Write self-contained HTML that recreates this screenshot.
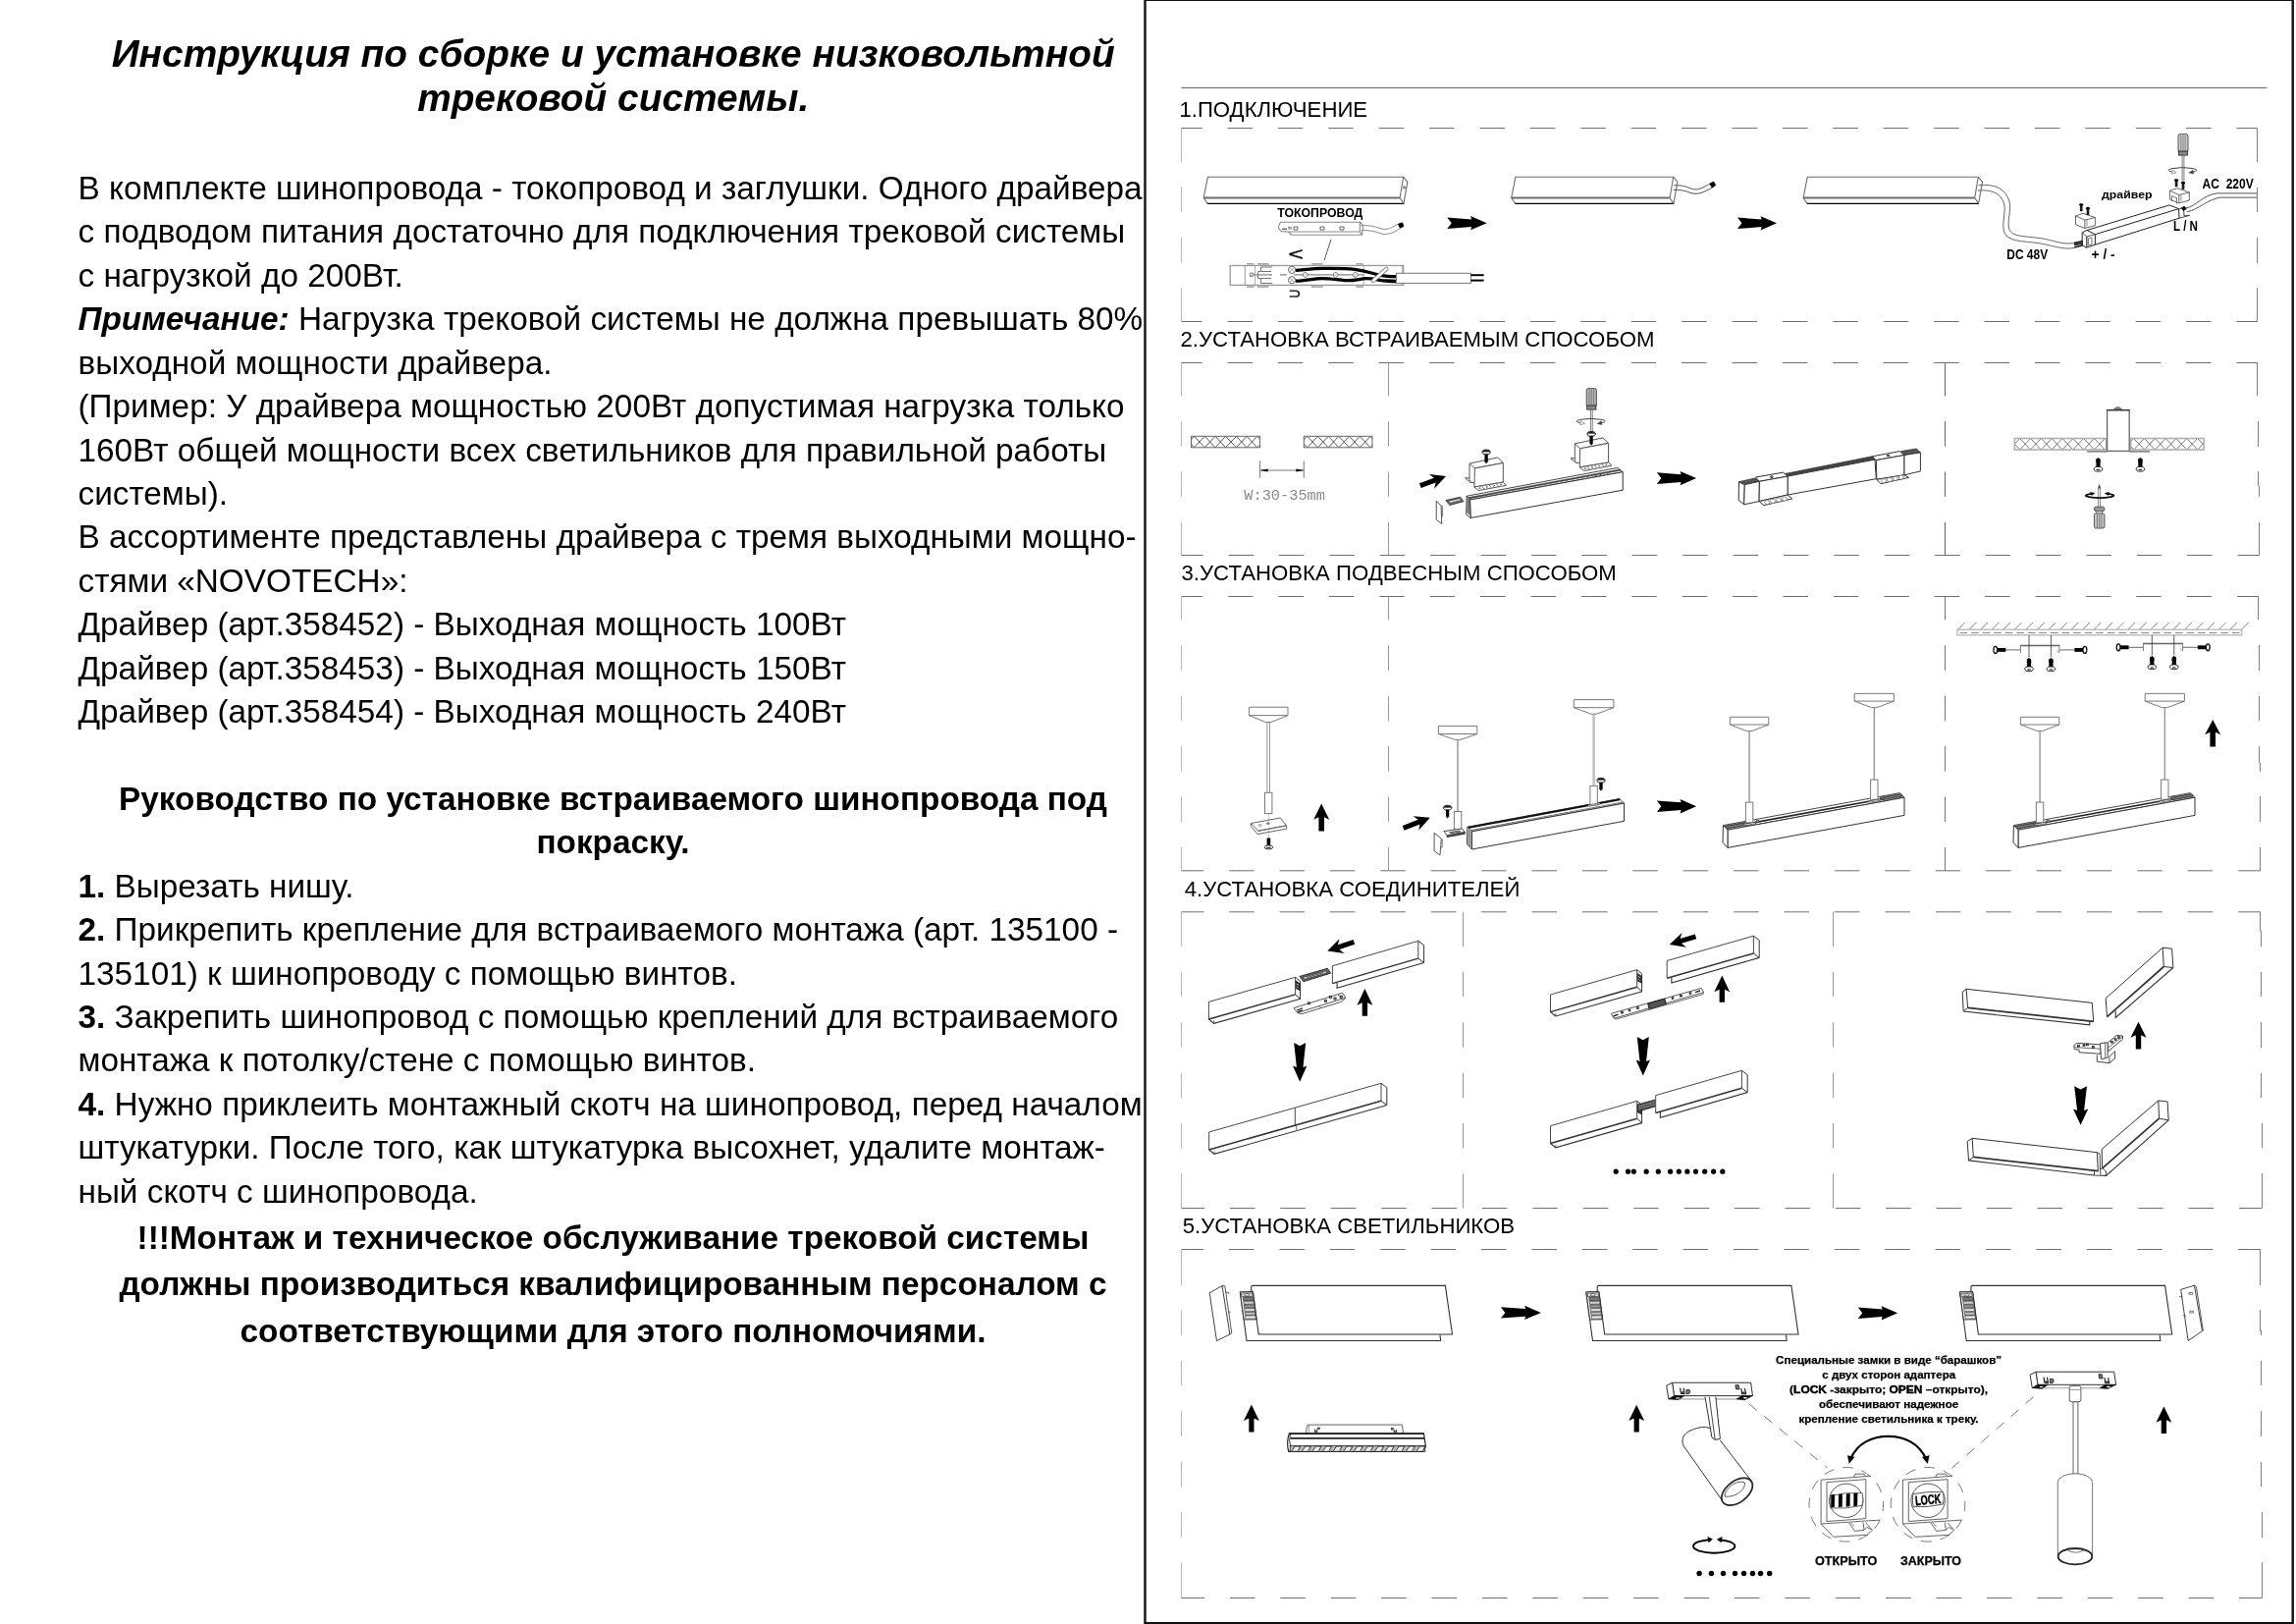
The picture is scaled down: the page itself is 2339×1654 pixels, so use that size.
<!DOCTYPE html>
<html lang="ru"><head><meta charset="utf-8"><title>Инструкция по сборке и установке низковольтной трековой системы</title>
<style>html,body{margin:0;padding:0;background:#fff}body{width:2339px;height:1654px;overflow:hidden}svg{display:block;will-change:transform;font-family:"Liberation Sans",Arial,Helvetica,sans-serif}</style></head><body>
<svg width="2339" height="1654" viewBox="0 0 2339 1654">
<rect x="0" y="0" width="2339" height="1654" fill="#fff"/>
<g id="lefttext" fill="#000">
<text x="624.7" y="67.5" font-size="38.85" font-weight="bold" font-style="italic" text-anchor="middle" fill="#000" >Инструкция по сборке и установке низковольтной</text>
<text x="624.7" y="112.8" font-size="38.85" font-weight="bold" font-style="italic" text-anchor="middle" fill="#000" >трековой системы.</text>
<text x="79.5" y="203" font-size="33.33" font-weight="normal" font-style="normal" text-anchor="start" fill="#000" >В комплекте шинопровода - токопровод и заглушки. Одного драйвера</text>
<text x="79.5" y="247.4" font-size="33.33" font-weight="normal" font-style="normal" text-anchor="start" fill="#000" >с подводом питания достаточно для подключения трековой системы</text>
<text x="79.5" y="291.8" font-size="33.33" font-weight="normal" font-style="normal" text-anchor="start" fill="#000" >с нагрузкой до 200Вт.</text>
<text x="79.5" y="336.3" font-size="33.33" font-weight="normal" font-style="normal" text-anchor="start" fill="#000" ><tspan font-weight="bold" font-style="italic">Примечание:</tspan> Нагрузка трековой системы не должна превышать 80%</text>
<text x="79.5" y="380.7" font-size="33.33" font-weight="normal" font-style="normal" text-anchor="start" fill="#000" >выходной мощности драйвера.</text>
<text x="79.5" y="425.1" font-size="33.33" font-weight="normal" font-style="normal" text-anchor="start" fill="#000" >(Пример: У драйвера мощностью 200Вт допустимая нагрузка только</text>
<text x="79.5" y="469.5" font-size="33.33" font-weight="normal" font-style="normal" text-anchor="start" fill="#000" >160Вт общей мощности всех светильников для правильной работы</text>
<text x="79.5" y="513.9" font-size="33.33" font-weight="normal" font-style="normal" text-anchor="start" fill="#000" >системы).</text>
<text x="79.5" y="558.4" font-size="33.33" font-weight="normal" font-style="normal" text-anchor="start" fill="#000" >В ассортименте представлены драйвера с тремя выходными мощно-</text>
<text x="79.5" y="602.8" font-size="33.33" font-weight="normal" font-style="normal" text-anchor="start" fill="#000" >стями «NOVOTECH»:</text>
<text x="79.5" y="647.2" font-size="33.33" font-weight="normal" font-style="normal" text-anchor="start" fill="#000" >Драйвер (арт.358452) - Выходная мощность 100Вт</text>
<text x="79.5" y="691.6" font-size="33.33" font-weight="normal" font-style="normal" text-anchor="start" fill="#000" >Драйвер (арт.358453) - Выходная мощность 150Вт</text>
<text x="79.5" y="736" font-size="33.33" font-weight="normal" font-style="normal" text-anchor="start" fill="#000" >Драйвер (арт.358454) - Выходная мощность 240Вт</text>
<text x="624.5" y="824.9" font-size="33.33" font-weight="bold" font-style="normal" text-anchor="middle" fill="#000" >Руководство по установке встраиваемого шинопровода под</text>
<text x="624.5" y="869.3" font-size="33.33" font-weight="bold" font-style="normal" text-anchor="middle" fill="#000" >покраску.</text>
<text x="79.5" y="913.7" font-size="33.33" font-weight="normal" font-style="normal" text-anchor="start" fill="#000" ><tspan font-weight="bold">1.</tspan> Вырезать нишу.</text>
<text x="79.5" y="958.1" font-size="33.33" font-weight="normal" font-style="normal" text-anchor="start" fill="#000" ><tspan font-weight="bold">2.</tspan> Прикрепить крепление для встраиваемого монтажа (арт. 135100 -</text>
<text x="79.5" y="1002.6" font-size="33.33" font-weight="normal" font-style="normal" text-anchor="start" fill="#000" >135101) к шинопроводу с помощью винтов.</text>
<text x="79.5" y="1047" font-size="33.33" font-weight="normal" font-style="normal" text-anchor="start" fill="#000" ><tspan font-weight="bold">3.</tspan> Закрепить шинопровод с помощью креплений для встраиваемого</text>
<text x="79.5" y="1091.4" font-size="33.33" font-weight="normal" font-style="normal" text-anchor="start" fill="#000" >монтажа к потолку/стене с помощью винтов.</text>
<text x="79.5" y="1135.8" font-size="33.33" font-weight="normal" font-style="normal" text-anchor="start" fill="#000" ><tspan font-weight="bold">4.</tspan> Нужно приклеить монтажный скотч на шинопровод, перед началом</text>
<text x="79.5" y="1180.2" font-size="33.33" font-weight="normal" font-style="normal" text-anchor="start" fill="#000" >штукатурки. После того, как штукатурка высохнет, удалите монтаж-</text>
<text x="79.5" y="1224.7" font-size="33.33" font-weight="normal" font-style="normal" text-anchor="start" fill="#000" >ный скотч с шинопровода.</text>
<text x="624.5" y="1272.2" font-size="33.33" font-weight="bold" font-style="normal" text-anchor="middle" fill="#000" >!!!Монтаж и техническое обслуживание трековой системы</text>
<text x="624.5" y="1319.1" font-size="33.33" font-weight="bold" font-style="normal" text-anchor="middle" fill="#000" >должны производиться квалифицированным персоналом с</text>
<text x="624.5" y="1366.8" font-size="33.33" font-weight="bold" font-style="normal" text-anchor="middle" fill="#000" >соответствующими для этого полномочиями.</text>
</g>
<path d="M1166.5,1654 L1166.5,-0.3 M1165.3,-0.3 L2336.9,-0.3 M2335.7,-1 L2335.7,1654 M1165.3,1653.1 L2336.9,1653.1" fill="none" stroke="#111" stroke-width="2.4"/>
<line x1="1203.5" y1="89.5" x2="2309.5" y2="89.5" stroke="#666" stroke-width="1" />
<text x="1201.4" y="118.9" font-size="22.2" font-weight="normal" font-style="normal" text-anchor="start" fill="#000" >1.ПОДКЛЮЧЕНИЕ</text>
<text x="1202.5" y="352.9" font-size="22.2" font-weight="normal" font-style="normal" text-anchor="start" fill="#000" >2.УСТАНОВКА ВСТРАИВАЕМЫМ СПОСОБОМ</text>
<text x="1203.5" y="591.1" font-size="22.2" font-weight="normal" font-style="normal" text-anchor="start" fill="#000" >3.УСТАНОВКА ПОДВЕСНЫМ СПОСОБОМ</text>
<text x="1206.7" y="913.2" font-size="22.2" font-weight="normal" font-style="normal" text-anchor="start" fill="#000" >4.УСТАНОВКА СОЕДИНИТЕЛЕЙ</text>
<text x="1204.7" y="1255.6" font-size="22.2" font-weight="normal" font-style="normal" text-anchor="start" fill="#000" >5.УСТАНОВКА СВЕТИЛЬНИКОВ</text>
<line x1="1203.5" y1="130.5" x2="2299.6" y2="130.5" stroke="#707070" stroke-width="1" stroke-dasharray="21.1 25.9 25.5 25.9 25.5 25.9 25.5 25.9 25.5 25.9 25.5 25.9 25.5 25.9 25.5 25.9 25.5 25.9 25.5 25.9 25.5 25.9 25.5 25.9 25.5 25.9 25.5 25.9 25.5 25.9 25.5 25.9 25.5 25.9 25.5 25.9 25.5 25.9 25.5 25.9 25.5 25.9 24.1"/>
<line x1="1203.5" y1="327.5" x2="2299.6" y2="327.5" stroke="#707070" stroke-width="1" stroke-dasharray="21.1 25.9 25.5 25.9 25.5 25.9 25.5 25.9 25.5 25.9 25.5 25.9 25.5 25.9 25.5 25.9 25.5 25.9 25.5 25.9 25.5 25.9 25.5 25.9 25.5 25.9 25.5 25.9 25.5 25.9 25.5 25.9 25.5 25.9 25.5 25.9 25.5 25.9 25.5 25.9 25.5 25.9 24.1"/>
<line x1="1203.5" y1="130.5" x2="1203.5" y2="327.5" stroke="#b4b4b4" stroke-width="1" stroke-dasharray="34.2 25.9 25.5 25.9 25.5 25.9 37.2"/>
<line x1="2299.6" y1="130.5" x2="2299.6" y2="327.5" stroke="#808080" stroke-width="1" stroke-dasharray="34.2 25.9 25.5 25.9 25.5 25.9 37.2" shape-rendering="crispEdges"/>
<line x1="1203.5" y1="369.5" x2="2299.6" y2="369.5" stroke="#707070" stroke-width="1" stroke-dasharray="21.1 25.9 25.5 25.9 25.5 25.9 25.5 25.9 25.5 25.9 25.5 25.9 25.5 25.9 25.5 25.9 25.5 25.9 25.5 25.9 25.5 25.9 25.5 25.9 25.5 25.9 25.5 25.9 25.5 25.9 25.5 25.9 25.5 25.9 25.5 25.9 25.5 25.9 25.5 25.9 25.5 25.9 24.1"/>
<line x1="1203.5" y1="565.5" x2="2301.8" y2="565.5" stroke="#707070" stroke-width="1" stroke-dasharray="22.2 25.9 25.5 25.9 25.5 25.9 25.5 25.9 25.5 25.9 25.5 25.9 25.5 25.9 25.5 25.9 25.5 25.9 25.5 25.9 25.5 25.9 25.5 25.9 25.5 25.9 25.5 25.9 25.5 25.9 25.5 25.9 25.5 25.9 25.5 25.9 25.5 25.9 25.5 25.9 25.5 25.9 25.2"/>
<line x1="1203.5" y1="369.5" x2="1203.5" y2="565.5" stroke="#b4b4b4" stroke-width="1" stroke-dasharray="33.7 25.9 25.5 25.9 25.5 25.9 36.7"/>
<line x1="2299.6" y1="369.5" x2="2301.8" y2="565.5" stroke="#808080" stroke-width="1" stroke-dasharray="33.7 25.9 25.5 25.9 25.5 25.9 36.7" shape-rendering="crispEdges"/>
<line x1="1414.5" y1="369.5" x2="1414.5" y2="565.5" stroke="#999" stroke-width="1" stroke-dasharray="33.7 25.9 25.5 25.9 25.5 25.9 36.7"/>
<line x1="1981.5" y1="369.5" x2="1981.5" y2="565.5" stroke="#666" stroke-width="1" stroke-dasharray="33.7 25.9 25.5 25.9 25.5 25.9 36.7"/>
<line x1="1203.5" y1="607.5" x2="2300.8" y2="607.5" stroke="#707070" stroke-width="1" stroke-dasharray="21.7 25.9 25.5 25.9 25.5 25.9 25.5 25.9 25.5 25.9 25.5 25.9 25.5 25.9 25.5 25.9 25.5 25.9 25.5 25.9 25.5 25.9 25.5 25.9 25.5 25.9 25.5 25.9 25.5 25.9 25.5 25.9 25.5 25.9 25.5 25.9 25.5 25.9 25.5 25.9 25.5 25.9 24.7"/>
<line x1="1203.5" y1="886.8" x2="2302.8" y2="886.8" stroke="#707070" stroke-width="1" stroke-dasharray="22.7 25.9 25.5 25.9 25.5 25.9 25.5 25.9 25.5 25.9 25.5 25.9 25.5 25.9 25.5 25.9 25.5 25.9 25.5 25.9 25.5 25.9 25.5 25.9 25.5 25.9 25.5 25.9 25.5 25.9 25.5 25.9 25.5 25.9 25.5 25.9 25.5 25.9 25.5 25.9 25.5 25.9 25.7"/>
<line x1="1203.5" y1="607.5" x2="1203.5" y2="886.8" stroke="#b4b4b4" stroke-width="1" stroke-dasharray="23.9 25.9 25.5 25.9 25.5 25.9 25.5 25.9 25.5 25.9 26.9"/>
<line x1="2300.8" y1="607.5" x2="2302.8" y2="886.8" stroke="#808080" stroke-width="1" stroke-dasharray="23.9 25.9 25.5 25.9 25.5 25.9 25.5 25.9 25.5 25.9 26.9" shape-rendering="crispEdges"/>
<line x1="1414.5" y1="607.5" x2="1414.5" y2="886.8" stroke="#999" stroke-width="1" stroke-dasharray="23.9 25.9 25.5 25.9 25.5 25.9 25.5 25.9 25.5 25.9 26.9"/>
<line x1="1981.5" y1="607.5" x2="1981.5" y2="886.8" stroke="#777" stroke-width="1" stroke-dasharray="23.9 25.9 25.5 25.9 25.5 25.9 25.5 25.9 25.5 25.9 26.9"/>
<line x1="1203.5" y1="928.8" x2="2302.9" y2="928.8" stroke="#707070" stroke-width="1" stroke-dasharray="22.8 25.9 25.5 25.9 25.5 25.9 25.5 25.9 25.5 25.9 25.5 25.9 25.5 25.9 25.5 25.9 25.5 25.9 25.5 25.9 25.5 25.9 25.5 25.9 25.5 25.9 25.5 25.9 25.5 25.9 25.5 25.9 25.5 25.9 25.5 25.9 25.5 25.9 25.5 25.9 25.5 25.9 25.8"/>
<line x1="1203.5" y1="1230.5" x2="2304.6" y2="1230.5" stroke="#707070" stroke-width="1" stroke-dasharray="23.6 25.9 25.5 25.9 25.5 25.9 25.5 25.9 25.5 25.9 25.5 25.9 25.5 25.9 25.5 25.9 25.5 25.9 25.5 25.9 25.5 25.9 25.5 25.9 25.5 25.9 25.5 25.9 25.5 25.9 25.5 25.9 25.5 25.9 25.5 25.9 25.5 25.9 25.5 25.9 25.5 25.9 26.6"/>
<line x1="1203.5" y1="928.8" x2="1203.5" y2="1230.5" stroke="#b4b4b4" stroke-width="1" stroke-dasharray="35.1 25.9 25.5 25.9 25.5 25.9 25.5 25.9 25.5 25.9 38.1"/>
<line x1="2302.9" y1="928.8" x2="2304.6" y2="1230.5" stroke="#808080" stroke-width="1" stroke-dasharray="35.1 25.9 25.5 25.9 25.5 25.9 25.5 25.9 25.5 25.9 38.1" shape-rendering="crispEdges"/>
<line x1="1490.5" y1="928.8" x2="1490.5" y2="1230.5" stroke="#999" stroke-width="1" stroke-dasharray="35.1 25.9 25.5 25.9 25.5 25.9 25.5 25.9 25.5 25.9 38.1"/>
<line x1="1867.5" y1="928.8" x2="1867.5" y2="1230.5" stroke="#999" stroke-width="1" stroke-dasharray="35.1 25.9 25.5 25.9 25.5 25.9 25.5 25.9 25.5 25.9 38.1"/>
<line x1="1203.5" y1="1272.5" x2="2302.5" y2="1272.5" stroke="#707070" stroke-width="1" stroke-dasharray="22.6 25.9 25.5 25.9 25.5 25.9 25.5 25.9 25.5 25.9 25.5 25.9 25.5 25.9 25.5 25.9 25.5 25.9 25.5 25.9 25.5 25.9 25.5 25.9 25.5 25.9 25.5 25.9 25.5 25.9 25.5 25.9 25.5 25.9 25.5 25.9 25.5 25.9 25.5 25.9 25.5 25.9 25.6"/>
<line x1="1203.5" y1="1627.5" x2="2304.7" y2="1627.5" stroke="#707070" stroke-width="1" stroke-dasharray="23.6 25.9 25.5 25.9 25.5 25.9 25.5 25.9 25.5 25.9 25.5 25.9 25.5 25.9 25.5 25.9 25.5 25.9 25.5 25.9 25.5 25.9 25.5 25.9 25.5 25.9 25.5 25.9 25.5 25.9 25.5 25.9 25.5 25.9 25.5 25.9 25.5 25.9 25.5 25.9 25.5 25.9 26.6"/>
<line x1="1203.5" y1="1272.5" x2="1203.5" y2="1627.5" stroke="#b4b4b4" stroke-width="1" stroke-dasharray="36.1 25.9 25.5 25.9 25.5 25.9 25.5 25.9 25.5 25.9 25.5 25.9 39.1"/>
<line x1="2302.5" y1="1272.5" x2="2304.7" y2="1627.5" stroke="#808080" stroke-width="1" stroke-dasharray="36.1 25.9 25.5 25.9 25.5 25.9 25.5 25.9 25.5 25.9 25.5 25.9 39.1" shape-rendering="crispEdges"/>
<g id="sec1">
<polyline points="1226.2,201.5 1230.4,180.3 1429.7,180.3 1426.1,201.5" fill="none" stroke="#6c6c6c" stroke-width="1.1" />
<line x1="1226.2" y1="201.5" x2="1426.1" y2="201.5" stroke="#6c6c6c" stroke-width="1.8" />
<polyline points="1226.2,201.5 1230.1,207.3" fill="none" stroke="#6c6c6c" stroke-width="1.1" />
<line x1="1229.8" y1="207.3" x2="1430.2" y2="207.3" stroke="#000" stroke-width="1.2" />
<polyline points="1429.7,180.3 1433.9,185.2 1430,207.3 1426.1,201.5" fill="none" stroke="#6c6c6c" stroke-width="1.1" />
<ellipse cx="1430.6" cy="191" rx="0.9" ry="1.3" fill="none" stroke="#222" stroke-width="0.7" />
<text x="1301.2" y="220.9" font-size="12" font-weight="bold" font-style="normal" text-anchor="start" fill="#000" textLength="87.2" lengthAdjust="spacingAndGlyphs" >ТОКОПРОВОД</text>
<path d="M1385.5,226.3 L1304.5,226.3 Q1302.6,229 1302.4,232.3 L1305.5,235.6 L1312.5,236 L1385.2,236 M1312.5,236 L1315.5,239.2 L1387.6,239.2 L1388.4,229.5 L1385.5,226.3 L1385.2,236 L1387.6,239.2" fill="none" stroke="#8a8a8a" stroke-width="1.1" />
<path d="M1318,231 h4 v3 h-4 z" fill="none" stroke="#444" stroke-width="0.8" />
<path d="M1345,231 h4 v3 h-4 z" fill="none" stroke="#444" stroke-width="0.8" />
<path d="M1365,231 h4 v3 h-4 z" fill="none" stroke="#444" stroke-width="0.8" />
<line x1="1306" y1="233.2" x2="1311" y2="233.2" stroke="#444" stroke-width="1.2" />
<path d="M1313,233.5 v-3 M1315,233.5 v-2.5" fill="none" stroke="#333" stroke-width="0.9" />
<path d="M1386.5,229.7 C1394,229.3 1400,230.3 1406,232.6 C1413,235.2 1418,231.5 1424.8,228" fill="none" stroke="#8a8a8a" stroke-width="1" />
<path d="M1386.5,234.6 C1394,234.3 1400,235.3 1406,237.6 C1414,240.5 1421,236 1428.7,231.2" fill="none" stroke="#8a8a8a" stroke-width="1" />
<polygon points="1424.6,228.2 1428.6,226.9 1429.8,230.4 1426.2,231.9" fill="#000" stroke="#000" stroke-width="1" />
<line x1="1355.9" y1="244" x2="1349.2" y2="264.9" stroke="#444" stroke-width="0.9" />
<text transform="translate(1312.4,265.3) scale(1.45,1)" font-size="18" stroke="#000" stroke-width="0.35">&lt;</text>
<text transform="translate(1324.3,303.6) rotate(-90) scale(0.78,1)" font-size="15.5" stroke="#000" stroke-width="0.35">U</text>
<rect x="1253.2" y="270.5" width="176.5" height="19.9" fill="none" stroke="#999" stroke-width="1.3" />
<line x1="1268.3" y1="270.5" x2="1268.3" y2="290.4" stroke="#999" stroke-width="1" />
<line x1="1278.5" y1="270.5" x2="1278.5" y2="290.4" stroke="#999" stroke-width="0.8" />
<line x1="1389.3" y1="270.5" x2="1389.3" y2="290.4" stroke="#999" stroke-width="0.8" />
<line x1="1428.3" y1="270.5" x2="1428.3" y2="290.4" stroke="#999" stroke-width="0.8" />
<rect x="1270.5" y="268.6" width="6.5" height="1.9" fill="#bbb" stroke="#999" stroke-width="0.8" />
<rect x="1270.5" y="290.4" width="6.5" height="1.9" fill="#bbb" stroke="#999" stroke-width="0.8" />
<rect x="1281.5" y="268.6" width="10.5" height="1.9" fill="#bbb" stroke="#999" stroke-width="0.8" />
<rect x="1281.5" y="290.4" width="10.5" height="1.9" fill="#bbb" stroke="#999" stroke-width="0.8" />
<rect x="1336.3" y="268.6" width="10.8" height="1.9" fill="#bbb" stroke="#999" stroke-width="0.8" />
<rect x="1336.3" y="290.4" width="10.8" height="1.9" fill="#bbb" stroke="#999" stroke-width="0.8" />
<rect x="1382" y="268.6" width="6.6" height="1.9" fill="#bbb" stroke="#999" stroke-width="0.8" />
<rect x="1382" y="290.4" width="6.6" height="1.9" fill="#bbb" stroke="#999" stroke-width="0.8" />
<ellipse cx="1275" cy="279.8" rx="2" ry="2" fill="none" stroke="#666" stroke-width="0.9" />
<line x1="1273.6" y1="281" x2="1276.4" y2="278.6" stroke="#666" stroke-width="0.7" />
<path d="M1296.2,272 H1284.5 V276.5 H1281.5 V283.5 H1284.5 V288.5 H1296.2 M1284.5,276.5 H1295 M1284.5,283.5 H1295" fill="none" stroke="#777" stroke-width="1" />
<path d="M1277,279.9 H1296 M1304,279.9 H1311 M1318,279.9 H1389" fill="none" stroke="#888" stroke-width="1.1" />
<ellipse cx="1316.1" cy="274.9" rx="3.6" ry="3.6" fill="#fff" stroke="#666" stroke-width="1" />
<path d="M1313.6,272.4 l5,5 M1318.6,272.4 l-5,5" fill="none" stroke="#888" stroke-width="0.7" />
<ellipse cx="1316.1" cy="285.2" rx="3.6" ry="3.6" fill="#fff" stroke="#666" stroke-width="1" />
<path d="M1313.6,282.7 l5,5 M1318.6,282.7 l-5,5" fill="none" stroke="#888" stroke-width="0.7" />
<path d="M1320,275.4 C1330,274.6 1338,273.4 1348,273.4 C1360,273.4 1370,273.2 1380,274.3 C1392,275.6 1398,278.6 1406,280.4 C1412,281.6 1417,281.7 1422.8,281.7" fill="none" stroke="#000" stroke-width="3.3" />
<path d="M1320,286.2 C1330,286 1338,283.6 1347,283.6 C1356,283.6 1362,285 1370,285.6 C1380,286.3 1386,283.6 1392,283.7 C1400,283.8 1406,285.6 1412,286 C1416,286.3 1419,286.5 1422.8,286.5" fill="none" stroke="#000" stroke-width="3.3" />
<ellipse cx="1329.7" cy="279.9" rx="2.4" ry="2.4" fill="#fff" stroke="#777" stroke-width="0.9" />
<line x1="1328.1" y1="281.2" x2="1331.3" y2="278.6" stroke="#888" stroke-width="0.6" />
<ellipse cx="1360.7" cy="279.9" rx="2.4" ry="2.4" fill="#fff" stroke="#777" stroke-width="0.9" />
<line x1="1359.1" y1="281.2" x2="1362.3" y2="278.6" stroke="#888" stroke-width="0.6" />
<ellipse cx="1380.9" cy="279.9" rx="2.4" ry="2.4" fill="#fff" stroke="#777" stroke-width="0.9" />
<line x1="1379.3" y1="281.2" x2="1382.5" y2="278.6" stroke="#888" stroke-width="0.6" />
<line x1="1398.8" y1="286" x2="1412.4" y2="273.9" stroke="#777" stroke-width="4.2" stroke-linecap="round"/>
<line x1="1398.8" y1="286" x2="1412.4" y2="273.9" stroke="#fff" stroke-width="2.6" stroke-linecap="round"/>
<rect x="1422.4" y="278.3" width="76" height="10.1" fill="#fff" stroke="#777" stroke-width="1" />
<line x1="1498.4" y1="280.2" x2="1511.6" y2="280.2" stroke="#000" stroke-width="2" />
<line x1="1498.4" y1="285.6" x2="1511.6" y2="285.6" stroke="#000" stroke-width="2" />
<path d="M1474.3,221.5 L1499.1,223.4 L1498.1,220.1 L1514.7,227.2 L1498.1,234.3 L1499.1,231 L1474.3,232.9 L1478.7,227.2 Z" fill="#000"/>
<polyline points="1539.7,201.5 1543.9,180.3 1704.7,180.3 1701.1,201.5" fill="none" stroke="#6c6c6c" stroke-width="1.1" />
<line x1="1539.7" y1="201.5" x2="1701.1" y2="201.5" stroke="#6c6c6c" stroke-width="1.8" />
<polyline points="1539.7,201.5 1543.6,207.3" fill="none" stroke="#6c6c6c" stroke-width="1.1" />
<line x1="1543.3" y1="207.3" x2="1705.2" y2="207.3" stroke="#000" stroke-width="1.2" />
<polyline points="1704.7,180.3 1708.9,185.2 1705,207.3 1701.1,201.5" fill="none" stroke="#6c6c6c" stroke-width="1.1" />
<path d="M1705.2,188.8 C1712,188.4 1717,189.5 1722,191.8 C1729,195 1735,191 1742.3,186.9" fill="none" stroke="#555" stroke-width="1" />
<path d="M1704.6,193.3 C1712,193 1717,194.3 1722,196.3 C1730,199.5 1738,194.5 1746.2,190" fill="none" stroke="#555" stroke-width="1" />
<polygon points="1742,187 1745.8,185.2 1747.6,188.6 1744,190.8" fill="#000" stroke="#000" stroke-width="1" />
<path d="M1770,221.6 L1794.6,223.5 L1793.6,220.2 L1810,227.3 L1793.6,234.4 L1794.6,231.1 L1770,233 L1774.4,227.3 Z" fill="#000"/>
<polyline points="1837.1,201.5 1841.3,180.3 2015.3,180.3 2011.7,201.5" fill="none" stroke="#6c6c6c" stroke-width="1.1" />
<line x1="1837.1" y1="201.5" x2="2011.7" y2="201.5" stroke="#6c6c6c" stroke-width="1.8" />
<polyline points="1837.1,201.5 1841,207.3" fill="none" stroke="#6c6c6c" stroke-width="1.1" />
<line x1="1840.7" y1="207.3" x2="2015.8" y2="207.3" stroke="#000" stroke-width="1.2" />
<polyline points="2015.3,180.3 2019.5,185.2 2015.6,207.3 2011.7,201.5" fill="none" stroke="#6c6c6c" stroke-width="1.1" />
<path d="M2015.5,188.7 C2032,187 2043,192 2047,205 C2049.5,214 2044,226 2047,234 C2050,241 2062,240.5 2078,242.5 C2092,244.5 2100,249.5 2112.5,247.6" fill="none" stroke="#666" stroke-width="1" />
<path d="M2014.8,194 C2028,193 2038,196 2041.5,207 C2044,216 2038.5,228 2042,237 C2046,246 2060,245.5 2076,247.5 C2090,249.5 2100,254.5 2113,252.6" fill="none" stroke="#666" stroke-width="1" />
<path d="M2112.8,247.6 L2122,245.5 M2113,249.5 L2122,247.6 M2113.2,252 L2122,249.8" fill="none" stroke="#111" stroke-width="1.6" />
<polyline points="2126,234.5 2210.1,208.9" fill="none" stroke="#222" stroke-width="1" />
<polyline points="2134.4,238.7 2219.5,212.6" fill="none" stroke="#222" stroke-width="1" />
<polyline points="2134.4,249.2 2220.1,222.2" fill="none" stroke="#222" stroke-width="1" />
<polygon points="2126,234.5 2134.4,238.7 2134.4,249.2 2125.2,252.3 2121.2,249.4 2121.2,236.8" fill="none" stroke="#222" stroke-width="1" />
<polyline points="2121.2,236.8 2125.8,241 2125.8,252 2125.8,241 2134.4,238.7" fill="none" stroke="#444" stroke-width="0.9" />
<polygon points="2127.5,243 2131,242 2131,249 2127.5,250" fill="none" stroke="#555" stroke-width="0.8" />
<polyline points="2210.1,208.9 2219.5,212.6 2220.1,222.2" fill="none" stroke="#222" stroke-width="1" />
<polyline points="2220,213 2224.5,211.5 2225,220 2230.6,219.3 2220.1,222.2" fill="none" stroke="#333" stroke-width="0.9" />
<polygon points="2222.3,211.8 2225.3,210.2 2227.3,212.6 2224.3,214.6" fill="#000" stroke="#000" stroke-width="0.8" />
<polygon points="2114.5,219.9 2122,217.3 2134.4,221.5 2134.4,229.7 2123.9,232.4 2114.5,228.8" fill="none" stroke="#555" stroke-width="0.9" /><polyline points="2114.5,219.9 2123.9,224.1 2134.4,221.5" fill="none" stroke="#555" stroke-width="0.9" /><polyline points="2123.9,224.1 2123.9,232.4" fill="none" stroke="#555" stroke-width="0.9" /><polyline points="2126,223.9 2126,230.4" fill="none" stroke="#777" stroke-width="0.8" />
<polygon points="2210.4,194.3 2217.9,191.7 2230.3,195.9 2230.3,204.1 2219.8,206.8 2210.4,203.2" fill="none" stroke="#555" stroke-width="0.9" /><polyline points="2210.4,194.3 2219.8,198.5 2230.3,195.9" fill="none" stroke="#555" stroke-width="0.9" /><polyline points="2219.8,198.5 2219.8,206.8" fill="none" stroke="#555" stroke-width="0.9" /><polyline points="2221.9,198.3 2221.9,204.8" fill="none" stroke="#777" stroke-width="0.8" />
<polyline points="2212.5,204.8 2212.5,199.5 2217.5,201.6 2217.5,207.3" fill="none" stroke="#555" stroke-width="0.8" />
<line x1="2120.2" y1="208.6" x2="2120.2" y2="215.2" stroke="#000" stroke-width="2.6" /><ellipse cx="2120.2" cy="208.5" rx="1.9" ry="1.1" fill="#000" stroke="#000" stroke-width="0.6" /><path d="M2118.5,211.1 h3.4 M2118.5,213.1 h3.4" fill="none" stroke="#999" stroke-width="0.4" />
<line x1="2127" y1="212.3" x2="2127" y2="218.9" stroke="#000" stroke-width="2.6" /><ellipse cx="2127" cy="212.2" rx="1.9" ry="1.1" fill="#000" stroke="#000" stroke-width="0.6" /><path d="M2125.3,214.8 h3.4 M2125.3,216.8 h3.4" fill="none" stroke="#999" stroke-width="0.4" />
<line x1="2217.1" y1="183.6" x2="2217.1" y2="190.2" stroke="#000" stroke-width="2.6" /><ellipse cx="2217.1" cy="183.5" rx="1.9" ry="1.1" fill="#000" stroke="#000" stroke-width="0.6" /><path d="M2215.4,186.1 h3.4 M2215.4,188.1 h3.4" fill="none" stroke="#999" stroke-width="0.4" />
<line x1="2224" y1="186.2" x2="2224" y2="192.8" stroke="#000" stroke-width="2.6" /><ellipse cx="2224" cy="186.1" rx="1.9" ry="1.1" fill="#000" stroke="#000" stroke-width="0.6" /><path d="M2222.3,188.7 h3.4 M2222.3,190.7 h3.4" fill="none" stroke="#999" stroke-width="0.4" />
<path d="M2219,138.6 q0,-2 2,-2 h6 q2,0 2,2 v15.5 h-10 z" fill="#ccc" stroke="#333" stroke-width="0.8" />
<line x1="2221.8" y1="137.6" x2="2221.8" y2="153.1" stroke="#555" stroke-width="0.6" />
<line x1="2224" y1="137.6" x2="2224" y2="153.1" stroke="#555" stroke-width="0.6" />
<line x1="2226.2" y1="137.6" x2="2226.2" y2="153.1" stroke="#555" stroke-width="0.6" />
<rect x="2219.5" y="154.1" width="9" height="4" fill="#888" stroke="#222" stroke-width="0.8" />
<line x1="2223.1" y1="158.1" x2="2223.1" y2="184.1" stroke="#444" stroke-width="0.7" />
<line x1="2224.9" y1="158.1" x2="2224.9" y2="184.1" stroke="#444" stroke-width="0.7" />
<path d="M2232.4,175.4 A14.3,2.6 0 1 0 2214.6,175.4" fill="none" stroke="#444" stroke-width="1" />
<polygon points="2213,173.2 2217.2,175.9 2212.4,177" fill="#fff" stroke="#444" stroke-width="0.5" />
<polygon points="2234,173.2 2229.8,175.9 2234.6,177" fill="#444" stroke="#444" stroke-width="0.5" />
<path d="M2226.5,212.2 C2238,209.5 2244,199 2258,196.9 L2299,196.9" fill="none" stroke="#555" stroke-width="1" />
<path d="M2227.8,215.8 C2241,213 2248,203.3 2262,201.1 L2299,201.1" fill="none" stroke="#555" stroke-width="1" />
<text x="2243.6" y="191.7" font-size="14" font-weight="bold" font-style="normal" text-anchor="start" fill="#000" textLength="52.2" lengthAdjust="spacingAndGlyphs" >AC&#160;&#160;220V</text>
<text x="2141" y="202.1" font-size="11.6" font-weight="bold" font-style="normal" text-anchor="start" fill="#000" textLength="51.5" lengthAdjust="spacingAndGlyphs" >драйвер</text>
<text x="2214" y="234.5" font-size="14" font-weight="bold" font-style="normal" text-anchor="start" fill="#000" textLength="25" lengthAdjust="spacingAndGlyphs" >L / N</text>
<text x="2130.6" y="263.8" font-size="14" font-weight="bold" font-style="normal" text-anchor="start" fill="#000" textLength="24" lengthAdjust="spacingAndGlyphs" >+ / -</text>
<text x="2044.3" y="263.7" font-size="14" font-weight="bold" font-style="normal" text-anchor="start" fill="#000" textLength="41.8" lengthAdjust="spacingAndGlyphs" >DC 48V</text>
</g>
<g id="sec2">
<clipPath id="hc1"><rect x="1213.5" y="444.3" width="70.1" height="11.5"/></clipPath>
<path d="M1195.2,444.3 l10.7,11.5 M1195.2,455.8 l10.7,-11.5 M1205.9,444.3 l10.7,11.5 M1205.9,455.8 l10.7,-11.5 M1216.6,444.3 l10.7,11.5 M1216.6,455.8 l10.7,-11.5 M1227.3,444.3 l10.7,11.5 M1227.3,455.8 l10.7,-11.5 M1238,444.3 l10.7,11.5 M1238,455.8 l10.7,-11.5 M1248.7,444.3 l10.7,11.5 M1248.7,455.8 l10.7,-11.5 M1259.4,444.3 l10.7,11.5 M1259.4,455.8 l10.7,-11.5 M1270.1,444.3 l10.7,11.5 M1270.1,455.8 l10.7,-11.5 M1280.8,444.3 l10.7,11.5 M1280.8,455.8 l10.7,-11.5 M1291.5,444.3 l10.7,11.5 M1291.5,455.8 l10.7,-11.5" fill="none" stroke="#444" stroke-width="0.9" clip-path="url(#hc1)"/>
<rect x="1213.5" y="444.3" width="70.1" height="11.5" fill="none" stroke="#666" stroke-width="1" />
<clipPath id="hc2"><rect x="1328.3" y="444.3" width="69.7" height="11.5"/></clipPath>
<path d="M1310.4,444.3 l10.7,11.5 M1310.4,455.8 l10.7,-11.5 M1321.1,444.3 l10.7,11.5 M1321.1,455.8 l10.7,-11.5 M1331.8,444.3 l10.7,11.5 M1331.8,455.8 l10.7,-11.5 M1342.5,444.3 l10.7,11.5 M1342.5,455.8 l10.7,-11.5 M1353.2,444.3 l10.7,11.5 M1353.2,455.8 l10.7,-11.5 M1363.9,444.3 l10.7,11.5 M1363.9,455.8 l10.7,-11.5 M1374.6,444.3 l10.7,11.5 M1374.6,455.8 l10.7,-11.5 M1385.3,444.3 l10.7,11.5 M1385.3,455.8 l10.7,-11.5 M1396,444.3 l10.7,11.5 M1396,455.8 l10.7,-11.5 M1406.7,444.3 l10.7,11.5 M1406.7,455.8 l10.7,-11.5" fill="none" stroke="#444" stroke-width="0.9" clip-path="url(#hc2)"/>
<rect x="1328.3" y="444.3" width="69.7" height="11.5" fill="none" stroke="#666" stroke-width="1" />
<line x1="1283.6" y1="469.4" x2="1283.6" y2="486.8" stroke="#555" stroke-width="0.8" />
<line x1="1328.3" y1="469.4" x2="1328.3" y2="486.8" stroke="#555" stroke-width="0.8" />
<line x1="1285" y1="479" x2="1327" y2="479" stroke="#555" stroke-width="0.8" />
<polygon points="1284,479 1291.5,477.7 1291.5,480.3" fill="#000" stroke="#000" stroke-width="0.3" />
<polygon points="1328,479 1320.5,477.7 1320.5,480.3" fill="#000" stroke="#000" stroke-width="0.3" />
<text x="1267.3" y="509" font-size="15.3" font-weight="normal" font-style="normal" text-anchor="start" fill="#8a8a8a" textLength="82.7" lengthAdjust="spacingAndGlyphs" font-family="Liberation Mono, DejaVu Sans Mono, monospace" >W:30-35mm</text>
<polygon points="1447.7,497 1462.6,491.5 1461.1,497.7 1473,485.1 1455.8,483.1 1460.9,486.8 1445.9,492.2" fill="#000"/>
<polygon points="1463.2,510.1 1468.1,515 1468.7,533.5 1463.2,529.2" fill="#fff" stroke="#555" stroke-width="1" />
<polyline points="1468.1,515 1469.3,515.5 1469.6,526 1468.5,526" fill="none" stroke="#555" stroke-width="0.8" />
<polygon points="1473,509.6 1487.7,506.3 1491,510.7 1476.8,514.5" fill="#777" stroke="#333" stroke-width="0.9" />
<polygon points="1475.5,510.2 1487.4,507.6 1488.8,509.6 1477,512.4" fill="#ddd" stroke="#222" stroke-width="0.6" />
<polygon points="1497,472 1525.8,466 1531.3,471.5 1502.4,476.9" fill="#fff" stroke="#555" stroke-width="1" />
<polygon points="1502.4,476.9 1531.3,471.5 1531.3,491.1 1501.9,496" fill="#fff" stroke="#555" stroke-width="1" />
<polyline points="1497,472 1497,488.9 1498.5,490.6" fill="none" stroke="#555" stroke-width="1" />
<polyline points="1497,486.9 1492.6,486.7 1498,491.6 1501.9,491.4" fill="none" stroke="#555" stroke-width="1" />
<polygon points="1501.9,496 1531.3,491.1 1534.5,494.3 1506.2,499.6" fill="#fff" stroke="#555" stroke-width="1" />
<line x1="1509.3" y1="494.8" x2="1511.9" y2="498" stroke="#555" stroke-width="0.8" />
<line x1="1516.7" y1="493.5" x2="1519.3" y2="496.7" stroke="#555" stroke-width="0.8" />
<line x1="1524.1" y1="492.3" x2="1526.7" y2="495.5" stroke="#555" stroke-width="0.8" />
<ellipse cx="1507.5" cy="497.2" rx="0.8" ry="0.6" fill="#666" stroke="#666" stroke-width="0.5" />
<ellipse cx="1514.7" cy="495.9" rx="0.8" ry="0.6" fill="#666" stroke="#666" stroke-width="0.5" />
<ellipse cx="1521.9" cy="494.7" rx="0.8" ry="0.6" fill="#666" stroke="#666" stroke-width="0.5" />
<ellipse cx="1529.1" cy="493.4" rx="0.8" ry="0.6" fill="#666" stroke="#666" stroke-width="0.5" />
<polygon points="1604.3,451.9 1633.1,445.9 1638.6,451.4 1609.7,456.8" fill="#fff" stroke="#555" stroke-width="1" />
<polygon points="1609.7,456.8 1638.6,451.4 1638.6,471 1609.2,475.9" fill="#fff" stroke="#555" stroke-width="1" />
<polyline points="1604.3,451.9 1604.3,468.8 1605.8,470.5" fill="none" stroke="#555" stroke-width="1" />
<polyline points="1604.3,466.8 1599.9,466.6 1605.3,471.5 1609.2,471.3" fill="none" stroke="#555" stroke-width="1" />
<polygon points="1609.2,475.9 1638.6,471 1641.8,474.2 1613.5,479.5" fill="#fff" stroke="#555" stroke-width="1" />
<line x1="1616.6" y1="474.7" x2="1619.2" y2="477.9" stroke="#555" stroke-width="0.8" />
<line x1="1624" y1="473.4" x2="1626.6" y2="476.6" stroke="#555" stroke-width="0.8" />
<line x1="1631.4" y1="472.2" x2="1634" y2="475.4" stroke="#555" stroke-width="0.8" />
<ellipse cx="1614.8" cy="477.1" rx="0.8" ry="0.6" fill="#666" stroke="#666" stroke-width="0.5" />
<ellipse cx="1622" cy="475.8" rx="0.8" ry="0.6" fill="#666" stroke="#666" stroke-width="0.5" />
<ellipse cx="1629.2" cy="474.6" rx="0.8" ry="0.6" fill="#666" stroke="#666" stroke-width="0.5" />
<ellipse cx="1636.4" cy="473.3" rx="0.8" ry="0.6" fill="#666" stroke="#666" stroke-width="0.5" />
<polygon points="1494.2,505.2 1647.8,476.4 1653.2,480.7 1497.5,509" fill="#fff" stroke="#333" stroke-width="0.9" />
<polygon points="1495.4,506.6 1649.6,477.9 1651.4,479.3 1496.8,507.9" fill="#444" stroke="#333" stroke-width="0.3" />
<polygon points="1497.5,509 1653.2,480.7 1653.2,499.2 1498.1,527.5" fill="#fff" stroke="#333" stroke-width="1" />
<polygon points="1494.2,505.2 1497.5,509 1498.1,527.5 1493.7,523.7" fill="#fff" stroke="#333" stroke-width="1" />
<polygon points="1495.3,508 1496.6,509.5 1497,524 1494.8,522" fill="#999" stroke="#333" stroke-width="0.6" />
<polygon points="1617,485.3 1637,481.6 1638.5,483 1618.5,486.7" fill="#fff" stroke="#222" stroke-width="0.7" />
<ellipse cx="1625.5" cy="484.4" rx="0.6" ry="0.5" fill="#222" stroke="#222" stroke-width="0.3" />
<ellipse cx="1630.5" cy="483.5" rx="0.6" ry="0.5" fill="#222" stroke="#222" stroke-width="0.3" />
<ellipse cx="1514.1" cy="460.5" rx="4.2" ry="2.4" fill="#fff" stroke="#111" stroke-width="0.9" /><path d="M1510,460.2 A4.2,2.4 0 0 1 1518.2,460.2 Z" fill="#222" stroke="#111" stroke-width="0.3" /><line x1="1514.1" y1="462.4" x2="1514.1" y2="470.4" stroke="#000" stroke-width="3.3" /><polygon points="1512.5,470.2 1514.1,472.1 1515.7,470.2" fill="#000" stroke="#000" stroke-width="0.3" />
<ellipse cx="1621.1" cy="441.9" rx="4.2" ry="2.4" fill="#fff" stroke="#111" stroke-width="0.9" /><path d="M1617,441.6 A4.2,2.4 0 0 1 1625.2,441.6 Z" fill="#222" stroke="#111" stroke-width="0.3" /><line x1="1621.1" y1="443.8" x2="1621.1" y2="451.8" stroke="#000" stroke-width="3.3" /><polygon points="1619.5,451.6 1621.1,453.5 1622.7,451.6" fill="#000" stroke="#000" stroke-width="0.3" />
<path d="M1616.2,397.6 q0,-2 2,-2 h6.2 q2,0 2,2 v15.5 h-10.2 z" fill="#b5b5b5" stroke="#333" stroke-width="0.8" />
<line x1="1619" y1="396.6" x2="1619" y2="412.1" stroke="#555" stroke-width="0.6" />
<line x1="1621.3" y1="396.6" x2="1621.3" y2="412.1" stroke="#555" stroke-width="0.6" />
<line x1="1623.6" y1="396.6" x2="1623.6" y2="412.1" stroke="#555" stroke-width="0.6" />
<rect x="1616.7" y="413.1" width="9.2" height="4" fill="#888" stroke="#222" stroke-width="0.8" />
<line x1="1620.4" y1="417.1" x2="1620.4" y2="439.1" stroke="#444" stroke-width="0.7" />
<line x1="1622.2" y1="417.1" x2="1622.2" y2="439.1" stroke="#444" stroke-width="0.7" />
<path d="M1629.7,431 A14.4,2.5 0 1 0 1611.9,431" fill="none" stroke="#444" stroke-width="1" />
<polygon points="1610.3,428.8 1614.5,431.5 1609.7,432.6" fill="#fff" stroke="#444" stroke-width="0.5" />
<polygon points="1631.3,428.8 1627.1,431.5 1631.9,432.6" fill="#444" stroke="#444" stroke-width="0.5" />
<path d="M1687.9,481.3 L1712.6,483.2 L1711.6,479.9 L1728.1,487.1 L1711.6,494.3 L1712.6,491 L1687.9,492.9 L1692.3,487.1 Z" fill="#000"/>
<polygon points="1771.5,490.7 1777.3,493.6 1776.7,513.8 1771.2,509.3" fill="#fff" stroke="#333" stroke-width="1" />
<polygon points="1771.5,490.7 1787.8,487 1792.4,490.3 1777.3,493.6" fill="#555" stroke="#333" stroke-width="0.8" />
<polygon points="1777.3,493.6 1792.4,490.3 1792.1,510.6 1776.7,513.8" fill="#fff" stroke="#333" stroke-width="1" />
<polygon points="1818.5,482.5 1907.4,464.8 1910,468.1 1821.1,485.1" fill="#444" stroke="#333" stroke-width="0.8" />
<polygon points="1821.1,485.1 1910,468.1 1911.3,487.7 1821.1,504" fill="#fff" stroke="#333" stroke-width="1" />
<polygon points="1788.5,486 1816.5,481.2 1821.1,485.1 1792.4,490.3" fill="#fff" stroke="#333" stroke-width="1" />
<polygon points="1792.4,490.3 1821.1,485.1 1821.1,504 1792.1,510.6" fill="#fff" stroke="#333" stroke-width="1" />
<polygon points="1792.1,510.6 1821.1,504 1825.7,507.9 1796.9,514.7" fill="#fff" stroke="#333" stroke-width="1" />
<ellipse cx="1804.8" cy="485.7" rx="1.3" ry="0.9" fill="#888" stroke="#222" stroke-width="0.9" />
<ellipse cx="1800.2" cy="511.6" rx="2.5" ry="2.1" fill="#fff" stroke="#777" stroke-width="0.8" />
<ellipse cx="1806.1" cy="510.4" rx="2.5" ry="2.1" fill="#fff" stroke="#777" stroke-width="0.8" />
<ellipse cx="1812" cy="509.1" rx="2.5" ry="2.1" fill="#fff" stroke="#777" stroke-width="0.8" />
<ellipse cx="1817.9" cy="507.9" rx="2.5" ry="2.1" fill="#fff" stroke="#777" stroke-width="0.8" />
<polygon points="1907.4,464.8 1935.5,459.6 1940,463.5 1911.3,468.7" fill="#fff" stroke="#333" stroke-width="1" />
<polygon points="1911.3,468.7 1940,463.5 1940,483.8 1911.9,488.3" fill="#fff" stroke="#333" stroke-width="1" />
<polygon points="1911.9,488.3 1940,483.8 1944.6,486.4 1915.9,492.7" fill="#fff" stroke="#333" stroke-width="1" />
<ellipse cx="1923.5" cy="464" rx="1.3" ry="0.9" fill="#888" stroke="#222" stroke-width="0.9" />
<ellipse cx="1919.1" cy="489.7" rx="2.5" ry="2.1" fill="#fff" stroke="#777" stroke-width="0.8" />
<ellipse cx="1925" cy="488.5" rx="2.5" ry="2.1" fill="#fff" stroke="#777" stroke-width="0.8" />
<ellipse cx="1930.9" cy="487.3" rx="2.5" ry="2.1" fill="#fff" stroke="#777" stroke-width="0.8" />
<ellipse cx="1936.8" cy="486.1" rx="2.5" ry="2.1" fill="#fff" stroke="#777" stroke-width="0.8" />
<polygon points="1936.8,459.6 1952.4,457 1956.4,460.9 1940,463.5" fill="#555" stroke="#333" stroke-width="0.8" />
<polygon points="1940,463.5 1956.4,460.9 1956.4,479.9 1940,483.8" fill="#fff" stroke="#333" stroke-width="1" />
<clipPath id="hc3"><rect x="2052.3" y="446.5" width="93.3" height="11.5"/></clipPath>
<path d="M2036,446.5 l10.8,11.5 M2036,458 l10.8,-11.5 M2046.9,446.5 l10.8,11.5 M2046.9,458 l10.8,-11.5 M2057.7,446.5 l10.8,11.5 M2057.7,458 l10.8,-11.5 M2068.5,446.5 l10.8,11.5 M2068.5,458 l10.8,-11.5 M2079.4,446.5 l10.8,11.5 M2079.4,458 l10.8,-11.5 M2090.2,446.5 l10.8,11.5 M2090.2,458 l10.8,-11.5 M2101,446.5 l10.8,11.5 M2101,458 l10.8,-11.5 M2111.8,446.5 l10.8,11.5 M2111.8,458 l10.8,-11.5 M2122.7,446.5 l10.8,11.5 M2122.7,458 l10.8,-11.5 M2133.5,446.5 l10.8,11.5 M2133.5,458 l10.8,-11.5 M2144.3,446.5 l10.8,11.5 M2144.3,458 l10.8,-11.5 M2155.2,446.5 l10.8,11.5 M2155.2,458 l10.8,-11.5" fill="none" stroke="#555" stroke-width="0.8" clip-path="url(#hc3)"/>
<rect x="2052.3" y="446.5" width="93.3" height="11.5" fill="none" stroke="#b0b0b0" stroke-width="1.6" />
<clipPath id="hc4"><rect x="2170.6" y="446.5" width="74.5" height="11.5"/></clipPath>
<path d="M2152,446.5 l10.8,11.5 M2152,458 l10.8,-11.5 M2162.9,446.5 l10.8,11.5 M2162.9,458 l10.8,-11.5 M2173.7,446.5 l10.8,11.5 M2173.7,458 l10.8,-11.5 M2184.5,446.5 l10.8,11.5 M2184.5,458 l10.8,-11.5 M2195.4,446.5 l10.8,11.5 M2195.4,458 l10.8,-11.5 M2206.2,446.5 l10.8,11.5 M2206.2,458 l10.8,-11.5 M2217,446.5 l10.8,11.5 M2217,458 l10.8,-11.5 M2227.8,446.5 l10.8,11.5 M2227.8,458 l10.8,-11.5 M2238.7,446.5 l10.8,11.5 M2238.7,458 l10.8,-11.5 M2249.5,446.5 l10.8,11.5 M2249.5,458 l10.8,-11.5" fill="none" stroke="#555" stroke-width="0.8" clip-path="url(#hc4)"/>
<rect x="2170.6" y="446.5" width="74.5" height="11.5" fill="none" stroke="#b0b0b0" stroke-width="1.6" />
<rect x="2146.6" y="417.8" width="22.6" height="41.6" fill="#fff" stroke="#666" stroke-width="1.3" />
<line x1="2146" y1="417.6" x2="2169.8" y2="417.6" stroke="#333" stroke-width="1.2" />
<path d="M2153.2,417 q4.2,-5 8.6,0 z" fill="#888" stroke="#444" stroke-width="0.6" />
<line x1="2126.2" y1="459.9" x2="2146.6" y2="459.9" stroke="#666" stroke-width="1.3" />
<line x1="2169.2" y1="459.9" x2="2190" y2="459.9" stroke="#666" stroke-width="1.3" />
<polygon points="2137,467.6 2137.5,466.1 2138,467.6" fill="#000" stroke="#000" stroke-width="0.6" /><line x1="2137.5" y1="467.3" x2="2137.5" y2="475.7" stroke="#000" stroke-width="4.2" /><path d="M2135.2,470.6 l0.8,-3.5 h3 l0.8,3.5 z" fill="#000" stroke="#000" stroke-width="0.2" /><ellipse cx="2137.5" cy="477.8" rx="4.3" ry="2.4" fill="#fff" stroke="#111" stroke-width="0.9" /><line x1="2135.7" y1="478.5" x2="2139.3" y2="478.5" stroke="#111" stroke-width="1.1" />
<polygon points="2179.9,467.6 2180.4,466.1 2180.9,467.6" fill="#000" stroke="#000" stroke-width="0.6" /><line x1="2180.4" y1="467.3" x2="2180.4" y2="475.7" stroke="#000" stroke-width="4.2" /><path d="M2178.1,470.6 l0.8,-3.5 h3 l0.8,3.5 z" fill="#000" stroke="#000" stroke-width="0.2" /><ellipse cx="2180.4" cy="477.8" rx="4.3" ry="2.4" fill="#fff" stroke="#111" stroke-width="0.9" /><line x1="2178.6" y1="478.5" x2="2182.2" y2="478.5" stroke="#111" stroke-width="1.1" />
<line x1="2137.6" y1="497" x2="2137.6" y2="516" stroke="#555" stroke-width="0.7" />
<line x1="2139.6" y1="497" x2="2139.6" y2="516" stroke="#555" stroke-width="0.7" />
<path d="M2137.6,497.5 L2138.6,493.8 L2139.6,497.5" fill="#555" stroke="#333" stroke-width="0.8" />
<rect x="2133.6" y="516.2" width="10.2" height="4.4" fill="#999" stroke="#333" stroke-width="0.8" rx="1.5"/>
<path d="M2133.4,524.6 q0,-1.8 2,-1.8 h6.6 q2,0 2,1.8 v11.6 q0,1.8 -2,1.8 h-6.6 q-2,0 -2,-1.8 z" fill="#c4c4c4" stroke="#333" stroke-width="0.8" />
<line x1="2136.5" y1="523.5" x2="2136.5" y2="537.5" stroke="#555" stroke-width="0.6" />
<line x1="2138.7" y1="523.5" x2="2138.7" y2="537.5" stroke="#555" stroke-width="0.6" />
<line x1="2140.9" y1="523.5" x2="2140.9" y2="537.5" stroke="#555" stroke-width="0.6" />
<line x1="2135.8" y1="520.6" x2="2135.8" y2="522.8" stroke="#444" stroke-width="0.7" />
<line x1="2141.6" y1="520.6" x2="2141.6" y2="522.8" stroke="#444" stroke-width="0.7" />
<path d="M2131.8,502.8 A14.4,2.2 0 1 0 2146.4,502.8" fill="none" stroke="#111" stroke-width="1.7" />
<polygon points="2129.3,501.3 2134.2,502.2 2130.8,504.4" fill="#000" stroke="#000" stroke-width="0.3" />
<polygon points="2148.9,501.3 2144,502.2 2147.4,504.4" fill="#000" stroke="#000" stroke-width="0.3" />
</g>
<g id="sec3">
<polyline points="1272.4,728.6 1272.4,720.2 1312,720.2 1312,728.6" fill="none" stroke="#7a7a7a" stroke-width="1" />
<line x1="1272.4" y1="728.6" x2="1312" y2="728.6" stroke="#7a7a7a" stroke-width="1" />
<polyline points="1272.4,728.6 1289.4,735.5 1295,735.5 1312,728.6" fill="none" stroke="#7a7a7a" stroke-width="1" />
<line x1="1290.9" y1="735.5" x2="1290.9" y2="807.3" stroke="#888" stroke-width="0.9" />
<line x1="1293.5" y1="735.5" x2="1293.5" y2="807.3" stroke="#888" stroke-width="0.9" />
<rect x="1288.5" y="807.3" width="7.4" height="21.3" fill="#fff" stroke="#7a7a7a" stroke-width="1" />
<line x1="1292.4" y1="828.6" x2="1292.4" y2="853" stroke="#888" stroke-width="0.6" stroke-dasharray="3 1.2"/>
<polygon points="1274.6,838.5 1304.3,833 1310.4,840.8 1281.6,846.3" fill="#fff" stroke="#666" stroke-width="1" />
<polyline points="1281.6,846.3 1310.4,840.8 1310.7,844.1 1281,849.6 1279.5,847.5 1278,846 1274.2,841.2 1274.6,838.5" fill="none" stroke="#666" stroke-width="1" />
<ellipse cx="1283.6" cy="840.5" rx="1.4" ry="1.1" fill="none" stroke="#666" stroke-width="0.7" />
<ellipse cx="1291.9" cy="838.7" rx="1.4" ry="1.1" fill="#999" stroke="#666" stroke-width="0.7" />
<line x1="1292.4" y1="853.5" x2="1292.4" y2="861" stroke="#000" stroke-width="3.6" />
<ellipse cx="1292.4" cy="862.9" rx="4.4" ry="2" fill="#fff" stroke="#222" stroke-width="0.9" />
<line x1="1290" y1="863.3" x2="1294.8" y2="863.3" stroke="#222" stroke-width="1.1" />
<path d="M1346.2,818.4 L1354.2,834.8 L1349,832.3 L1349,846.5 L1343.4,846.5 L1343.4,832.3 L1338.2,834.8 Z" fill="#000"/>
<polygon points="1430.5,845.7 1446.5,839.5 1445.2,845.7 1456.8,832.8 1439.5,831.2 1444.7,834.8 1428.7,841.1" fill="#000"/>
<polygon points="1461.1,848.1 1468.3,854.2 1467,871 1461.1,866.6" fill="#fff" stroke="#555" stroke-width="1" />
<polyline points="1468.3,854.2 1469.3,855 1469.2,863 1468,863" fill="none" stroke="#555" stroke-width="0.8" />
<polyline points="1465.4,747.5 1465.4,739.4 1504.8,739.4 1504.8,747.5" fill="none" stroke="#7a7a7a" stroke-width="1" />
<line x1="1465.4" y1="747.5" x2="1504.8" y2="747.5" stroke="#7a7a7a" stroke-width="1" />
<polyline points="1465.4,747.5 1482.3,753.4 1487.9,753.4 1504.8,747.5" fill="none" stroke="#7a7a7a" stroke-width="1" />
<line x1="1485.1" y1="753.4" x2="1485.1" y2="826.5" stroke="#909090" stroke-width="1.9" />
<line x1="1485.1" y1="753.8" x2="1485.1" y2="826.5" stroke="#eee" stroke-width="0.6" />
<rect x="1481.4" y="826.5" width="7.4" height="18.3" fill="#fff" stroke="#7a7a7a" stroke-width="1" />
<polygon points="1470.9,846.6 1489.4,843.9 1492.3,847.6 1474.2,851" fill="#fff" stroke="#333" stroke-width="0.9" />
<polygon points="1474.2,851 1492.3,847.6 1492.3,849.2 1474.2,852.6" fill="#555" stroke="#333" stroke-width="0.9" />
<polygon points="1476.5,847.5 1487,846 1488,847.2 1477.5,848.9" fill="#777" stroke="#333" stroke-width="0.5" />
<ellipse cx="1474.6" cy="822.7" rx="4.2" ry="2.4" fill="#fff" stroke="#111" stroke-width="0.9" /><path d="M1470.5,822.4 A4.2,2.4 0 0 1 1478.7,822.4 Z" fill="#222" stroke="#111" stroke-width="0.3" /><line x1="1474.6" y1="824.6" x2="1474.6" y2="831.6" stroke="#000" stroke-width="3.3" /><polygon points="1473,831.4 1474.6,833.3 1476.2,831.4" fill="#000" stroke="#000" stroke-width="0.3" />
<ellipse cx="1631" cy="794.8" rx="4.2" ry="2.4" fill="#fff" stroke="#111" stroke-width="0.9" /><path d="M1626.9,794.5 A4.2,2.4 0 0 1 1635.1,794.5 Z" fill="#222" stroke="#111" stroke-width="0.3" /><line x1="1631" y1="796.7" x2="1631" y2="803.7" stroke="#000" stroke-width="3.3" /><polygon points="1629.4,803.5 1631,805.4 1632.6,803.5" fill="#000" stroke="#000" stroke-width="0.3" />
<polygon points="1494.9,842.2 1649.9,813.5 1654.5,818.1 1499.5,846.8" fill="#fff" stroke="#333" stroke-width="0.9" />
<line x1="1495.4" y1="843" x2="1650.2" y2="814.3" stroke="#111" stroke-width="1.9" />
<line x1="1498.2" y1="845.7" x2="1653.2" y2="817" stroke="#333" stroke-width="0.7" />
<polygon points="1499.5,846.8 1654.5,818.1 1654.5,836.3 1499.5,865" fill="#fff" stroke="#333" stroke-width="1" />
<polygon points="1494.9,842.2 1499.5,846.8 1499.5,865 1494.5,859.8" fill="#fff" stroke="#333" stroke-width="1" />
<polygon points="1496.1,845.2 1498.1,847.2 1498.3,862.2 1495.9,860.2" fill="#aaa" stroke="#333" stroke-width="0.5" />
<polyline points="1603.3,720.7 1603.3,712.6 1643.9,712.6 1643.9,720.7" fill="none" stroke="#7a7a7a" stroke-width="1" />
<line x1="1603.3" y1="720.7" x2="1643.9" y2="720.7" stroke="#7a7a7a" stroke-width="1" />
<polyline points="1603.3,720.7 1620.8,727.2 1626.4,727.2 1643.9,720.7" fill="none" stroke="#7a7a7a" stroke-width="1" />
<line x1="1623.6" y1="727.2" x2="1623.6" y2="800.4" stroke="#909090" stroke-width="1.9" />
<line x1="1623.6" y1="727.6" x2="1623.6" y2="800.4" stroke="#eee" stroke-width="0.6" />
<rect x="1619.9" y="800.4" width="7.4" height="19.6" fill="#fff" stroke="#7a7a7a" stroke-width="1" />
<polygon points="1617.5,820 1629.5,817.8 1630.3,819 1618.3,821.2" fill="#fff" stroke="#222" stroke-width="0.6" />
<ellipse cx="1636" cy="817.2" rx="0.8" ry="0.6" fill="#222" stroke="#222" stroke-width="0.3" />
<path d="M1687.9,815.4 L1712.6,817.3 L1711.6,813.9 L1728.1,821.2 L1711.6,828.5 L1712.6,825.1 L1687.9,827 L1692.3,821.2 Z" fill="#000"/>
<polygon points="1755.4,840.6 1935.4,807.6 1940,812.2 1760,845.2" fill="#fff" stroke="#333" stroke-width="0.9" />
<line x1="1757.7" y1="843.1" x2="1937.7" y2="810.1" stroke="#222" stroke-width="1.5" />
<polygon points="1756.8,841.2 1778,837.3 1780.8,840.2 1759.6,844.1" fill="#444" stroke="#111" stroke-width="0.4" />
<line x1="1758.2" y1="842.7" x2="1779.4" y2="838.8" stroke="#bbb" stroke-width="0.6" />
<polygon points="1915,812.2 1935.5,808.4 1938.3,811.3 1917.8,815.1" fill="#444" stroke="#111" stroke-width="0.4" />
<line x1="1916.4" y1="813.7" x2="1936.9" y2="809.9" stroke="#bbb" stroke-width="0.6" />
<polygon points="1760,845.2 1940,812.2 1940,830.4 1760,863.4" fill="#fff" stroke="#333" stroke-width="1" />
<polygon points="1755.4,840.6 1760,845.2 1760,863.4 1755,858.2" fill="#fff" stroke="#333" stroke-width="1" />
<polyline points="1762.4,738 1762.4,730.3 1801.8,730.3 1801.8,738" fill="none" stroke="#7a7a7a" stroke-width="1" />
<line x1="1762.4" y1="738" x2="1801.8" y2="738" stroke="#7a7a7a" stroke-width="1" />
<polyline points="1762.4,738 1779.3,744.5 1784.9,744.5 1801.8,738" fill="none" stroke="#7a7a7a" stroke-width="1" />
<line x1="1782.1" y1="744.5" x2="1782.1" y2="817.1" stroke="#909090" stroke-width="1.3" />
<rect x="1778.4" y="817.1" width="7.4" height="20.7" fill="#fff" stroke="#7a7a7a" stroke-width="1" />
<polyline points="1889.2,714.1 1889.2,706.4 1929.4,706.4 1929.4,714.1" fill="none" stroke="#7a7a7a" stroke-width="1" />
<line x1="1889.2" y1="714.1" x2="1929.4" y2="714.1" stroke="#7a7a7a" stroke-width="1" />
<polyline points="1889.2,714.1 1906.5,720.6 1912.1,720.6 1929.4,714.1" fill="none" stroke="#7a7a7a" stroke-width="1" />
<line x1="1909.3" y1="720.6" x2="1909.3" y2="794.1" stroke="#909090" stroke-width="1.3" />
<rect x="1905.6" y="794.1" width="7.4" height="20.1" fill="#fff" stroke="#7a7a7a" stroke-width="1" />
<polygon points="1776.1,839.5 1788.1,837.3 1789.1,838.6 1777.1,840.8" fill="#fff" stroke="#222" stroke-width="0.6" />
<polygon points="1903.3,816.1 1915.3,813.9 1916.3,815.2 1904.3,817.4" fill="#fff" stroke="#222" stroke-width="0.6" />
<ellipse cx="1790.5" cy="836.3" rx="1.7" ry="1.1" fill="#999" stroke="#222" stroke-width="0.7" />
<ellipse cx="1917.7" cy="812.9" rx="1.7" ry="1.1" fill="#999" stroke="#222" stroke-width="0.7" />
<polygon points="2051.4,840.6 2231.4,807.6 2236,812.2 2056,845.2" fill="#fff" stroke="#333" stroke-width="0.9" />
<line x1="2053.7" y1="843.1" x2="2233.7" y2="810.1" stroke="#222" stroke-width="1.5" />
<polygon points="2052.8,841.2 2074,837.3 2076.8,840.2 2055.6,844.1" fill="#444" stroke="#111" stroke-width="0.4" />
<line x1="2054.2" y1="842.7" x2="2075.4" y2="838.8" stroke="#bbb" stroke-width="0.6" />
<polygon points="2211,812.2 2231.5,808.4 2234.3,811.3 2213.8,815.1" fill="#444" stroke="#111" stroke-width="0.4" />
<line x1="2212.4" y1="813.7" x2="2232.9" y2="809.9" stroke="#bbb" stroke-width="0.6" />
<polygon points="2056,845.2 2236,812.2 2236,830.4 2056,863.4" fill="#fff" stroke="#333" stroke-width="1" />
<polygon points="2051.4,840.6 2056,845.2 2056,863.4 2051,858.2" fill="#fff" stroke="#333" stroke-width="1" />
<polyline points="2058.4,738 2058.4,730.3 2097.8,730.3 2097.8,738" fill="none" stroke="#7a7a7a" stroke-width="1" />
<line x1="2058.4" y1="738" x2="2097.8" y2="738" stroke="#7a7a7a" stroke-width="1" />
<polyline points="2058.4,738 2075.3,744.5 2080.9,744.5 2097.8,738" fill="none" stroke="#7a7a7a" stroke-width="1" />
<line x1="2078.1" y1="744.5" x2="2078.1" y2="817.1" stroke="#909090" stroke-width="1.3" />
<rect x="2074.4" y="817.1" width="7.4" height="20.7" fill="#fff" stroke="#7a7a7a" stroke-width="1" />
<polyline points="2185.2,714.1 2185.2,706.4 2225.4,706.4 2225.4,714.1" fill="none" stroke="#7a7a7a" stroke-width="1" />
<line x1="2185.2" y1="714.1" x2="2225.4" y2="714.1" stroke="#7a7a7a" stroke-width="1" />
<polyline points="2185.2,714.1 2202.5,720.6 2208.1,720.6 2225.4,714.1" fill="none" stroke="#7a7a7a" stroke-width="1" />
<line x1="2205.3" y1="720.6" x2="2205.3" y2="794.1" stroke="#909090" stroke-width="1.3" />
<rect x="2201.6" y="794.1" width="7.4" height="20.1" fill="#fff" stroke="#7a7a7a" stroke-width="1" />
<polygon points="2072.1,839.5 2084.1,837.3 2085.1,838.6 2073.1,840.8" fill="#fff" stroke="#222" stroke-width="0.6" />
<polygon points="2199.3,816.1 2211.3,813.9 2212.3,815.2 2200.3,817.4" fill="#fff" stroke="#222" stroke-width="0.6" />
<ellipse cx="2086.5" cy="836.3" rx="1.7" ry="1.1" fill="#999" stroke="#222" stroke-width="0.7" />
<ellipse cx="2213.7" cy="812.9" rx="1.7" ry="1.1" fill="#999" stroke="#222" stroke-width="0.7" />
<path d="M1994.8,641 l7,-7 M2006.3,641 l7,-7 M2017.9,641 l7,-7 M2029.4,641 l7,-7 M2041,641 l7,-7 M2052.5,641 l7,-7 M2064.1,641 l7,-7 M2075.7,641 l7,-7 M2087.2,641 l7,-7 M2098.8,641 l7,-7 M2110.3,641 l7,-7 M2121.9,641 l7,-7 M2133.4,641 l7,-7 M2145,641 l7,-7 M2156.5,641 l7,-7 M2168.1,641 l7,-7 M2179.6,641 l7,-7 M2191.2,641 l7,-7 M2202.7,641 l7,-7 M2214.3,641 l7,-7 M2225.8,641 l7,-7 M2237.4,641 l7,-7 M2248.9,641 l7,-7 M2260.5,641 l7,-7 M2272,641 l7,-7 M2283.6,641 l7,-7" fill="none" stroke="#666" stroke-width="0.8" />
<rect x="1994" y="641.2" width="289.7" height="5.7" fill="none" stroke="#aaa" stroke-width="1.1" />
<line x1="1996.6" y1="644.6" x2="2282" y2="644.6" stroke="#666" stroke-width="0.8" stroke-dasharray="7.6 3.95"/>
<line x1="2058.1" y1="657.5" x2="2098.3" y2="657.5" stroke="#666" stroke-width="1.5" />
<line x1="2058.5" y1="657.5" x2="2058.5" y2="665" stroke="#777" stroke-width="0.9" />
<line x1="2097.9" y1="657.5" x2="2097.9" y2="665" stroke="#777" stroke-width="0.9" />
<path d="M2096.8,662 q-2,0.6 0,3" fill="none" stroke="#888" stroke-width="0.6" />
<line x1="2067" y1="647" x2="2067" y2="669.5" stroke="#333" stroke-width="0.8" />
<polygon points="2066.5,671.5 2067,670 2067.5,671.5" fill="#000" stroke="#000" stroke-width="0.6" /><line x1="2067" y1="671.2" x2="2067" y2="679.2" stroke="#000" stroke-width="4.2" /><path d="M2064.7,674.5 l0.8,-3.5 h3 l0.8,3.5 z" fill="#000" stroke="#000" stroke-width="0.2" /><ellipse cx="2067" cy="681.3" rx="4.3" ry="2.4" fill="#fff" stroke="#111" stroke-width="0.9" /><line x1="2065.2" y1="682" x2="2068.8" y2="682" stroke="#111" stroke-width="1.1" />
<line x1="2089.4" y1="647" x2="2089.4" y2="669.5" stroke="#333" stroke-width="0.8" />
<polygon points="2088.9,671.5 2089.4,670 2089.9,671.5" fill="#000" stroke="#000" stroke-width="0.6" /><line x1="2089.4" y1="671.2" x2="2089.4" y2="679.2" stroke="#000" stroke-width="4.2" /><path d="M2087.1,674.5 l0.8,-3.5 h3 l0.8,3.5 z" fill="#000" stroke="#000" stroke-width="0.2" /><ellipse cx="2089.4" cy="681.3" rx="4.3" ry="2.4" fill="#fff" stroke="#111" stroke-width="0.9" /><line x1="2087.6" y1="682" x2="2091.2" y2="682" stroke="#111" stroke-width="1.1" />
<ellipse cx="2032.8" cy="661.9" rx="1.9" ry="3.5" fill="#fff" stroke="#111" stroke-width="1.3" />
<line x1="2034.8" y1="661.9" x2="2043.3" y2="661.9" stroke="#000" stroke-width="3.9" />
<line x1="2042.8" y1="661.9" x2="2058.1" y2="661.9" stroke="#444" stroke-width="0.8" />
<ellipse cx="2123.9" cy="661.9" rx="1.9" ry="3.5" fill="#fff" stroke="#111" stroke-width="1.3" />
<line x1="2121.9" y1="661.9" x2="2113.4" y2="661.9" stroke="#000" stroke-width="3.9" />
<line x1="2113.9" y1="661.9" x2="2098.3" y2="661.9" stroke="#444" stroke-width="0.8" />
<line x1="2183.1" y1="655.5" x2="2224" y2="655.5" stroke="#666" stroke-width="1.5" />
<line x1="2183.5" y1="655.5" x2="2183.5" y2="663" stroke="#777" stroke-width="0.9" />
<line x1="2223.6" y1="655.5" x2="2223.6" y2="663" stroke="#777" stroke-width="0.9" />
<path d="M2222.5,660 q-2,0.6 0,3" fill="none" stroke="#888" stroke-width="0.6" />
<line x1="2192.3" y1="647" x2="2192.3" y2="667.5" stroke="#333" stroke-width="0.8" />
<polygon points="2191.8,669.5 2192.3,668 2192.8,669.5" fill="#000" stroke="#000" stroke-width="0.6" /><line x1="2192.3" y1="669.2" x2="2192.3" y2="677.2" stroke="#000" stroke-width="4.2" /><path d="M2190,672.5 l0.8,-3.5 h3 l0.8,3.5 z" fill="#000" stroke="#000" stroke-width="0.2" /><ellipse cx="2192.3" cy="679.3" rx="4.3" ry="2.4" fill="#fff" stroke="#111" stroke-width="0.9" /><line x1="2190.5" y1="680" x2="2194.1" y2="680" stroke="#111" stroke-width="1.1" />
<line x1="2214.8" y1="647" x2="2214.8" y2="667.5" stroke="#333" stroke-width="0.8" />
<polygon points="2214.3,669.5 2214.8,668 2215.3,669.5" fill="#000" stroke="#000" stroke-width="0.6" /><line x1="2214.8" y1="669.2" x2="2214.8" y2="677.2" stroke="#000" stroke-width="4.2" /><path d="M2212.5,672.5 l0.8,-3.5 h3 l0.8,3.5 z" fill="#000" stroke="#000" stroke-width="0.2" /><ellipse cx="2214.8" cy="679.3" rx="4.3" ry="2.4" fill="#fff" stroke="#111" stroke-width="0.9" /><line x1="2213" y1="680" x2="2216.6" y2="680" stroke="#111" stroke-width="1.1" />
<ellipse cx="2158.1" cy="659.3" rx="1.9" ry="3.5" fill="#fff" stroke="#111" stroke-width="1.3" />
<line x1="2160.1" y1="659.3" x2="2168.6" y2="659.3" stroke="#000" stroke-width="3.9" />
<line x1="2168.1" y1="659.3" x2="2183.1" y2="659.3" stroke="#444" stroke-width="0.8" />
<ellipse cx="2249.3" cy="659.3" rx="1.9" ry="3.5" fill="#fff" stroke="#111" stroke-width="1.3" />
<line x1="2247.3" y1="659.3" x2="2238.8" y2="659.3" stroke="#000" stroke-width="3.9" />
<line x1="2239.3" y1="659.3" x2="2224" y2="659.3" stroke="#444" stroke-width="0.8" />
<path d="M2254.2,732.9 L2262.2,748.2 L2257,745.7 L2257,760.4 L2251.4,760.4 L2251.4,745.7 L2246.2,748.2 Z" fill="#000"/>
</g>
<g id="sec4">
<polyline points="1231.4,1038 1231.4,1020.4 1319.6,995.3 1319.6,1012.9" fill="none" stroke="#333" stroke-width="0.9" />
<line x1="1231.4" y1="1038" x2="1319.6" y2="1012.9" stroke="#333" stroke-width="1.5" />
<polyline points="1231.4,1038 1236.7,1042.4 1324.9,1017.3" fill="none" stroke="#333" stroke-width="1.1" />
<line x1="1236.7" y1="1042.4" x2="1236.7" y2="1039.5" stroke="#333" stroke-width="0.8" />
<polyline points="1319.6,995.3 1324.5,999.3 1324.5,1017.4 1319.6,1012.9" fill="none" stroke="#333" stroke-width="1" />
<polygon points="1320.2,998.8 1324.2,1001.8 1324.2,1008.8 1320.2,1006.8" fill="#222" stroke="#111" stroke-width="0.4" />
<line x1="1321.1" y1="1002.1" x2="1323.2" y2="1003.5" stroke="#fff" stroke-width="0.9" />
<line x1="1321.1" y1="1004.9" x2="1323.2" y2="1006.3" stroke="#ccc" stroke-width="0.9" />
<polyline points="1357.4,1001.6 1357.4,983.8 1444.8,958.3 1444.8,976.1" fill="none" stroke="#333" stroke-width="0.9" />
<line x1="1357.4" y1="1001.6" x2="1444.8" y2="976.1" stroke="#333" stroke-width="1.5" />
<polyline points="1362.1,1000.8 1362.1,1006.3 1450.6,980.5" fill="none" stroke="#333" stroke-width="1.1" />
<polyline points="1444.8,958.3 1450.6,962.7 1450.6,980.5 1444.8,976.1" fill="none" stroke="#333" stroke-width="1" />
<polygon points="1324,994.4 1352.3,986.3 1355.6,991.2 1327.8,999.7" fill="#666" stroke="#222" stroke-width="0.9" />
<polygon points="1327.5,995.3 1350.5,988.8 1352,990.8 1329,997.5" fill="#ddd" stroke="#222" stroke-width="0.7" />
<line x1="1331" y1="995.5" x2="1348" y2="990.6" stroke="#333" stroke-width="0.8" />
<polygon points="1318,1026.6 1367.5,1011.3 1370.8,1016.2 1321.8,1031.5" fill="#fff" stroke="#444" stroke-width="0.9" />
<polyline points="1321.8,1031.5 1326,1032.7 1366,1020.5 1370.8,1016.2" fill="none" stroke="#444" stroke-width="0.9" />
<line x1="1344" y1="1024.6" x2="1345.5" y2="1026.6" stroke="#444" stroke-width="0.8" />
<line x1="1363" y1="1012.8" x2="1366.5" y2="1017.6" stroke="#444" stroke-width="0.8" />
<rect x="1332.4" y="1020.8" width="2.2" height="2" fill="#999" stroke="#222" stroke-width="0.8" />
<rect x="1349.4" y="1018.6" width="2.2" height="2" fill="#999" stroke="#222" stroke-width="0.8" />
<rect x="1354.4" y="1014.4" width="2.2" height="2" fill="#999" stroke="#222" stroke-width="0.8" />
<rect x="1358.9" y="1016" width="2.2" height="2" fill="#999" stroke="#222" stroke-width="0.8" />
<rect x="1365.4" y="1014.2" width="2.2" height="2" fill="#999" stroke="#222" stroke-width="0.8" />
<path d="M1321,1029 l6,-2.2 M1322,1030.6 l5,-1.8" fill="none" stroke="#222" stroke-width="1.2" />
<polygon points="1378.6,957 1362.9,962.3 1364.5,956.3 1352.3,968.5 1369.4,970.9 1364.5,967.1 1380.2,961.8" fill="#000"/>
<path d="M1390.4,1007 L1398.3,1023.7 L1393.1,1021.2 L1393.1,1034.7 L1387.7,1034.7 L1387.7,1021.2 L1382.5,1023.7 Z" fill="#000"/>
<path d="M1318.2,1062 L1324.2,1065.2 L1330.2,1062 L1327.5,1087 L1331.4,1085.5 L1324.2,1101.7 L1317,1085.5 L1320.9,1087 Z" fill="#000"/>
<polyline points="1231.7,1171 1231.7,1153 1407,1103.3 1407,1121.3" fill="none" stroke="#333" stroke-width="0.9" />
<line x1="1231.7" y1="1171" x2="1407" y2="1121.3" stroke="#333" stroke-width="1.5" />
<polyline points="1231.7,1171 1237,1175.4 1412.3,1125.7" fill="none" stroke="#333" stroke-width="1.1" />
<line x1="1237" y1="1175.4" x2="1237" y2="1172.5" stroke="#333" stroke-width="0.8" />
<polyline points="1407,1103.3 1412.8,1107.7 1412.8,1125.7 1407,1121.3" fill="none" stroke="#333" stroke-width="1" />
<line x1="1319.3" y1="1128.4" x2="1319.3" y2="1146.3" stroke="#333" stroke-width="0.9" />
<polyline points="1319.3,1146.3 1320.8,1147.5 1320.8,1150.6" fill="none" stroke="#333" stroke-width="0.8" />
<polyline points="1579.5,1030.6 1579.5,1013 1667.7,987.7 1667.7,1005.3" fill="none" stroke="#333" stroke-width="0.9" />
<line x1="1579.5" y1="1030.6" x2="1667.7" y2="1005.3" stroke="#333" stroke-width="1.5" />
<polyline points="1579.5,1030.6 1584.8,1035 1673,1009.7" fill="none" stroke="#333" stroke-width="1.1" />
<line x1="1584.8" y1="1035" x2="1584.8" y2="1032.1" stroke="#333" stroke-width="0.8" />
<polyline points="1667.7,987.7 1672.6,991.7 1672.6,1009.8 1667.7,1005.3" fill="none" stroke="#333" stroke-width="1" />
<polygon points="1668.3,991.2 1672.3,994.2 1672.3,1001.2 1668.3,999.2" fill="#222" stroke="#111" stroke-width="0.4" />
<line x1="1669.2" y1="994.5" x2="1671.3" y2="995.9" stroke="#fff" stroke-width="0.9" />
<line x1="1669.2" y1="997.3" x2="1671.3" y2="998.7" stroke="#ccc" stroke-width="0.9" />
<polyline points="1698.2,996.3 1698.2,978.5 1786.4,953.2 1786.4,971" fill="none" stroke="#333" stroke-width="0.9" />
<line x1="1698.2" y1="996.3" x2="1786.4" y2="971" stroke="#333" stroke-width="1.5" />
<polyline points="1702.9,995.5 1702.9,1001 1792.2,975.4" fill="none" stroke="#333" stroke-width="1.1" />
<polyline points="1786.4,953.2 1792.2,957.6 1792.2,975.4 1786.4,971" fill="none" stroke="#333" stroke-width="1" />
<polygon points="1641.3,1032.3 1733.3,1006.4 1735.6,1010.7 1644.2,1037.2" fill="#fff" stroke="#444" stroke-width="0.9" />
<polyline points="1644.2,1037.2 1646.5,1038 1735,1012.6 1735.6,1010.7" fill="none" stroke="#444" stroke-width="0.8" />
<polygon points="1678.4,1022 1696,1017 1697.6,1022.6 1680,1027.8" fill="#333" stroke="#111" stroke-width="0.5" />
<path d="M1681,1025.6 l15,-4.3 M1680.4,1023.6 l15,-4.3" fill="none" stroke="#aaa" stroke-width="0.6" />
<rect x="1651.6" y="1030.3" width="1.8" height="1.8" fill="#555" stroke="#222" stroke-width="0.7" />
<rect x="1659.1" y="1028.1" width="1.8" height="1.8" fill="#555" stroke="#222" stroke-width="0.7" />
<rect x="1667.6" y="1025.7" width="1.8" height="1.8" fill="#555" stroke="#222" stroke-width="0.7" />
<rect x="1703.1" y="1015.7" width="1.8" height="1.8" fill="#555" stroke="#222" stroke-width="0.7" />
<rect x="1711.6" y="1013.3" width="1.8" height="1.8" fill="#555" stroke="#222" stroke-width="0.7" />
<rect x="1721.1" y="1010.7" width="1.8" height="1.8" fill="#555" stroke="#222" stroke-width="0.7" />
<path d="M1643.5,1035 l5,-1.8 M1727,1010.6 l5,-1.6" fill="none" stroke="#222" stroke-width="1.4" />
<polygon points="1726.8,951.4 1711.6,956 1713.4,950 1700.8,961.9 1717.9,964.8 1713,960.8 1728.2,956.2" fill="#000"/>
<path d="M1754.3,993.5 L1762.2,1010.2 L1757,1007.7 L1757,1020.8 L1751.6,1020.8 L1751.6,1007.7 L1746.4,1010.2 Z" fill="#000"/>
<path d="M1667.8,1056.1 L1673.8,1059.3 L1679.8,1056.1 L1677.1,1080.9 L1681,1079.4 L1673.8,1095.5 L1666.6,1079.4 L1670.5,1080.9 Z" fill="#000"/>
<polyline points="1579.5,1164.5 1579.5,1146.7 1667.7,1121.4 1667.7,1139.2" fill="none" stroke="#333" stroke-width="0.9" />
<line x1="1579.5" y1="1164.5" x2="1667.7" y2="1139.2" stroke="#333" stroke-width="1.5" />
<polyline points="1579.5,1164.5 1584.8,1168.9 1673,1143.6" fill="none" stroke="#333" stroke-width="1.1" />
<line x1="1584.8" y1="1168.9" x2="1584.8" y2="1166" stroke="#333" stroke-width="0.8" />
<polyline points="1667.7,1121.4 1672.6,1125.4 1672.6,1143.7 1667.7,1139.2" fill="none" stroke="#333" stroke-width="1" />
<polygon points="1668.3,1124.9 1672.3,1127.9 1672.3,1134.9 1668.3,1132.9" fill="#222" stroke="#111" stroke-width="0.4" />
<line x1="1669.2" y1="1128.2" x2="1671.3" y2="1129.6" stroke="#fff" stroke-width="0.9" />
<line x1="1669.2" y1="1131" x2="1671.3" y2="1132.4" stroke="#ccc" stroke-width="0.9" />
<polygon points="1668.6,1124.8 1685.8,1119.9 1685.8,1127.2 1668.6,1132.2" fill="#444" stroke="#111" stroke-width="0.5" />
<path d="M1669,1127 l16.5,-4.7 M1669,1129.4 l16.5,-4.7" fill="none" stroke="#ccc" stroke-width="0.6" />
<polyline points="1686.7,1133.5 1686.7,1115.6 1774.4,1090.3 1774.4,1108.2" fill="none" stroke="#333" stroke-width="0.9" />
<line x1="1686.7" y1="1133.5" x2="1774.4" y2="1108.2" stroke="#333" stroke-width="1.5" />
<polyline points="1691.4,1132.7 1691.4,1138.2 1780.2,1112.6" fill="none" stroke="#333" stroke-width="1.1" />
<polyline points="1774.4,1090.3 1780.2,1094.7 1780.2,1112.6 1774.4,1108.2" fill="none" stroke="#333" stroke-width="1" />
<ellipse cx="1646.2" cy="1193.2" rx="2.6" ry="2.6" fill="#000" stroke="none" stroke-width="0" /><ellipse cx="1658.5" cy="1193.2" rx="2.6" ry="2.6" fill="#000" stroke="none" stroke-width="0" /><ellipse cx="1664.3" cy="1193.2" rx="2.6" ry="2.6" fill="#000" stroke="none" stroke-width="0" /><ellipse cx="1677.2" cy="1193.2" rx="2.6" ry="2.6" fill="#000" stroke="none" stroke-width="0" /><ellipse cx="1689.3" cy="1193.2" rx="2.6" ry="2.6" fill="#000" stroke="none" stroke-width="0" /><ellipse cx="1701.6" cy="1193.2" rx="2.6" ry="2.6" fill="#000" stroke="none" stroke-width="0" /><ellipse cx="1710.3" cy="1193.2" rx="2.6" ry="2.6" fill="#000" stroke="none" stroke-width="0" /><ellipse cx="1718.9" cy="1193.2" rx="2.6" ry="2.6" fill="#000" stroke="none" stroke-width="0" /><ellipse cx="1727.5" cy="1193.2" rx="2.6" ry="2.6" fill="#000" stroke="none" stroke-width="0" /><ellipse cx="1736.7" cy="1193.2" rx="2.6" ry="2.6" fill="#000" stroke="none" stroke-width="0" /><ellipse cx="1745.6" cy="1193.2" rx="2.6" ry="2.6" fill="#000" stroke="none" stroke-width="0" /><ellipse cx="1754.8" cy="1193.2" rx="2.6" ry="2.6" fill="#000" stroke="none" stroke-width="0" />
<polygon points="2003.1,1007.3 1999.2,1010.4 2000.2,1030 2004.6,1026.3" fill="none" stroke="#333" stroke-width="1" />
<polyline points="2003.1,1007.3 2131.3,1021.4 2132.7,1040.4" fill="none" stroke="#333" stroke-width="1" />
<line x1="2004.6" y1="1026.3" x2="2132.7" y2="1040.4" stroke="#333" stroke-width="1.7" />
<polyline points="2000.2,1030 2128.8,1043.9 2128.8,1040.2" fill="none" stroke="#333" stroke-width="1.1" />
<polyline points="2146.5,1035.7 2145.2,1016.7 2203.2,965.2 2204.3,984.5" fill="none" stroke="#333" stroke-width="1" />
<line x1="2146.5" y1="1035.7" x2="2204.3" y2="984.5" stroke="#333" stroke-width="1.7" />
<polyline points="2203.2,965.2 2212.6,966.2 2213.9,985.5 2204.3,984.5" fill="none" stroke="#333" stroke-width="1" />
<polyline points="2155.2,1029.2 2155.2,1036.5 2213.9,985.5" fill="none" stroke="#333" stroke-width="1.1" />
<polyline points="2136.3,1074.4 2136.3,1081.2 2148.9,1082.7 2154.6,1078 2154.6,1070.7" fill="#fff" stroke="#444" stroke-width="1" />
<polyline points="2148.9,1082.7 2148.9,1076 2154.6,1070.7" fill="none" stroke="#444" stroke-width="0.9" />
<polygon points="2112.8,1064.5 2115.9,1062.4 2140,1063.9 2140,1073.3 2118,1071.8 2118,1069.2 2113.3,1068.6" fill="#fff" stroke="#444" stroke-width="1" />
<line x1="2113.3" y1="1066.6" x2="2140" y2="1068.2" stroke="#444" stroke-width="0.8" />
<polygon points="2146.8,1062.4 2156.2,1054.5 2162.5,1055 2162.5,1058.2 2148,1070.5" fill="#fff" stroke="#444" stroke-width="1" />
<line x1="2148" y1="1066.6" x2="2162.5" y2="1055.6" stroke="#444" stroke-width="0.8" />
<polygon points="2139.5,1062.9 2144.7,1061.8 2147.2,1062.2 2147.2,1077 2144.7,1078 2140.5,1078.6" fill="#fff" stroke="#444" stroke-width="1" />
<line x1="2144.7" y1="1061.8" x2="2144.7" y2="1078" stroke="#444" stroke-width="0.8" />
<rect x="2116.5" y="1064.3" width="2" height="1.8" fill="#666" stroke="#222" stroke-width="0.7" />
<rect x="2122" y="1063.7" width="2" height="1.8" fill="#666" stroke="#222" stroke-width="0.7" />
<rect x="2125.5" y="1063" width="2" height="1.8" fill="#666" stroke="#222" stroke-width="0.7" />
<rect x="2131.5" y="1065.6" width="2" height="1.8" fill="#666" stroke="#222" stroke-width="0.7" />
<rect x="2150.5" y="1060.3" width="2" height="1.8" fill="#666" stroke="#222" stroke-width="0.7" />
<rect x="2154" y="1057.7" width="2" height="1.8" fill="#666" stroke="#222" stroke-width="0.7" />
<rect x="2157.5" y="1055.7" width="2" height="1.8" fill="#666" stroke="#222" stroke-width="0.7" />
<path d="M2178.5,1040.7 L2186.5,1056.7 L2181.2,1054.2 L2181.2,1068.6 L2175.8,1068.6 L2175.8,1054.2 L2170.5,1056.7 Z" fill="#000"/>
<path d="M2113.2,1106.3 L2119.6,1109.5 L2126,1106.3 L2123.1,1131.1 L2127.2,1129.6 L2119.6,1145.7 L2112,1129.6 L2116.1,1131.1 Z" fill="#000"/>
<polygon points="2009.2,1159.3 2004.2,1162.5 2005.5,1181.9 2010.3,1178.4" fill="none" stroke="#333" stroke-width="1" />
<polyline points="2009.2,1159.3 2136.3,1173.7 2137.4,1192.7" fill="none" stroke="#333" stroke-width="1" />
<line x1="2010.3" y1="1178.4" x2="2137.4" y2="1192.7" stroke="#333" stroke-width="1.7" />
<polyline points="2005.5,1181.9 2133.5,1197 2145.6,1197.4 2209.2,1140.9" fill="none" stroke="#333" stroke-width="1.1" />
<polyline points="2133.5,1197 2133.5,1192.6" fill="none" stroke="#333" stroke-width="0.9" />
<polyline points="2141.7,1189.9 2141.1,1170.5 2198.8,1120.9 2199.5,1139.2" fill="none" stroke="#333" stroke-width="1" />
<line x1="2141.7" y1="1189.9" x2="2199.5" y2="1139.2" stroke="#333" stroke-width="1.7" />
<polyline points="2198.8,1120.9 2208.1,1122 2209.2,1140.9 2199.5,1139.2" fill="none" stroke="#333" stroke-width="1" />
<polyline points="2136.3,1173.7 2139,1175 2139.6,1191 2141.7,1189.9 2145.6,1193 2145.6,1197.4" fill="none" stroke="#333" stroke-width="0.9" />
<line x1="2139.6" y1="1191" x2="2139.9" y2="1196.5" stroke="#333" stroke-width="0.9" />
</g>
<g id="sec5">
<polygon points="1232.2,1316.7 1245,1309.6 1252.9,1359 1239.5,1365.7" fill="#fff" stroke="#444" stroke-width="1" />
<polyline points="1245,1309.6 1247.8,1309.6 1254.8,1357.8 1252.9,1359" fill="none" stroke="#444" stroke-width="0.9" />
<polyline points="1248.5,1316.3 1251.8,1316.3 1251.9,1318" fill="none" stroke="#555" stroke-width="0.8" />
<polyline points="1251.2,1335.9 1252.9,1335.9 1253,1337.4" fill="none" stroke="#555" stroke-width="0.8" />
<polyline points="1263.3,1315.7 1270,1365.5 1467.6,1365.5 1467,1359.6" fill="none" stroke="#333" stroke-width="1.1" />
<polyline points="1276.4,1315.5 1274.7,1315 1274.7,1310.3 1275.6,1309.4 1472.4,1309.4 1479.5,1359 1282.2,1359 1276.4,1315.5" fill="#fff" stroke="#333" stroke-width="1.1" />
<polygon points="1263.3,1315.7 1276.4,1315.5 1280,1343.8 1267.2,1344" fill="#fff" stroke="#222" stroke-width="0.9" />
<polygon points="1264.5,1317 1275.5,1316.8 1276,1320.5 1265,1320.7" fill="#ddd" stroke="#222" stroke-width="0.7" />
<ellipse cx="1270.3" cy="1318.8" rx="2.6" ry="1.2" fill="#fff" stroke="#222" stroke-width="0.7" />
<polygon points="1266.2,1321.6 1276.6,1321.4 1277,1324.5 1266.6,1324.7" fill="#777" stroke="#222" stroke-width="0.6" />
<polygon points="1266.7,1325.3 1277.1,1325.1 1277.5,1328.2 1267.1,1328.4" fill="#ccc" stroke="#222" stroke-width="0.6" />
<polygon points="1267.2,1329 1277.6,1328.8 1278,1331.9 1267.6,1332.1" fill="#999" stroke="#222" stroke-width="0.6" />
<polygon points="1267.6,1332.7 1278,1332.5 1278.4,1335.6 1268,1335.8" fill="#ddd" stroke="#222" stroke-width="0.6" />
<polygon points="1268.1,1336.4 1278.5,1336.2 1278.9,1339.3 1268.5,1339.5" fill="#bbb" stroke="#222" stroke-width="0.6" />
<polygon points="1268.6,1340.1 1279,1339.9 1279.4,1343 1269,1343.2" fill="#eee" stroke="#222" stroke-width="0.6" />
<path d="M1528.9,1331.2 L1554.1,1333.1 L1553.1,1329.8 L1569.9,1336.9 L1553.1,1344 L1554.1,1340.7 L1528.9,1342.6 L1533.4,1336.9 Z" fill="#000"/>
<polyline points="1615.8,1315.7 1622.5,1365.5 1820.1,1365.5 1819.5,1359.6" fill="none" stroke="#333" stroke-width="1.1" />
<polyline points="1628.9,1315.5 1627.2,1315 1627.2,1310.3 1628.1,1309.4 1824.9,1309.4 1832,1359 1634.7,1359 1628.9,1315.5" fill="#fff" stroke="#333" stroke-width="1.1" />
<polygon points="1615.8,1315.7 1628.9,1315.5 1632.5,1343.8 1619.7,1344" fill="#fff" stroke="#222" stroke-width="0.9" />
<polygon points="1617,1317 1628,1316.8 1628.5,1320.5 1617.5,1320.7" fill="#ddd" stroke="#222" stroke-width="0.7" />
<ellipse cx="1622.8" cy="1318.8" rx="2.6" ry="1.2" fill="#fff" stroke="#222" stroke-width="0.7" />
<polygon points="1618.7,1321.6 1629.1,1321.4 1629.5,1324.5 1619.1,1324.7" fill="#777" stroke="#222" stroke-width="0.6" />
<polygon points="1619.2,1325.3 1629.6,1325.1 1630,1328.2 1619.6,1328.4" fill="#ccc" stroke="#222" stroke-width="0.6" />
<polygon points="1619.7,1329 1630.1,1328.8 1630.5,1331.9 1620.1,1332.1" fill="#999" stroke="#222" stroke-width="0.6" />
<polygon points="1620.1,1332.7 1630.5,1332.5 1630.9,1335.6 1620.5,1335.8" fill="#ddd" stroke="#222" stroke-width="0.6" />
<polygon points="1620.6,1336.4 1631,1336.2 1631.4,1339.3 1621,1339.5" fill="#bbb" stroke="#222" stroke-width="0.6" />
<polygon points="1621.1,1340.1 1631.5,1339.9 1631.9,1343 1621.5,1343.2" fill="#eee" stroke="#222" stroke-width="0.6" />
<path d="M1892.8,1331.6 L1917.6,1333.5 L1916.6,1330.2 L1933.2,1337.3 L1916.6,1344.4 L1917.6,1341.1 L1892.8,1343 L1897.2,1337.3 Z" fill="#000"/>
<polyline points="1996.5,1315.7 2003.2,1365.5 2200.8,1365.5 2200.2,1359.6" fill="none" stroke="#333" stroke-width="1.1" />
<polyline points="2009.6,1315.5 2007.9,1315 2007.9,1310.3 2008.8,1309.4 2205.6,1309.4 2212.7,1359 2015.4,1359 2009.6,1315.5" fill="#fff" stroke="#333" stroke-width="1.1" />
<polygon points="1996.5,1315.7 2009.6,1315.5 2013.2,1343.8 2000.4,1344" fill="#fff" stroke="#222" stroke-width="0.9" />
<polygon points="1997.7,1317 2008.7,1316.8 2009.2,1320.5 1998.2,1320.7" fill="#ddd" stroke="#222" stroke-width="0.7" />
<ellipse cx="2003.5" cy="1318.8" rx="2.6" ry="1.2" fill="#fff" stroke="#222" stroke-width="0.7" />
<polygon points="1999.4,1321.6 2009.8,1321.4 2010.2,1324.5 1999.8,1324.7" fill="#777" stroke="#222" stroke-width="0.6" />
<polygon points="1999.9,1325.3 2010.3,1325.1 2010.7,1328.2 2000.3,1328.4" fill="#ccc" stroke="#222" stroke-width="0.6" />
<polygon points="2000.4,1329 2010.8,1328.8 2011.2,1331.9 2000.8,1332.1" fill="#999" stroke="#222" stroke-width="0.6" />
<polygon points="2000.8,1332.7 2011.2,1332.5 2011.6,1335.6 2001.2,1335.8" fill="#ddd" stroke="#222" stroke-width="0.6" />
<polygon points="2001.3,1336.4 2011.7,1336.2 2012.1,1339.3 2001.7,1339.5" fill="#bbb" stroke="#222" stroke-width="0.6" />
<polygon points="2001.8,1340.1 2012.2,1339.9 2012.6,1343 2002.2,1343.2" fill="#eee" stroke="#222" stroke-width="0.6" />
<polygon points="2221.7,1313.4 2235.4,1309.2 2243.5,1355.6 2229.1,1365.5" fill="#fff" stroke="#444" stroke-width="1" />
<polyline points="2235.4,1309.2 2237.4,1310.6 2244.4,1355.2 2243.5,1355.6" fill="none" stroke="#444" stroke-width="0.9" />
<rect x="2230" y="1316.4" width="3.6" height="1.8" fill="#fff" stroke="#444" stroke-width="0.7" />
<rect x="2230.8" y="1335.2" width="3.6" height="1.8" fill="#fff" stroke="#444" stroke-width="0.7" />
<polyline points="2219.8,1320.6 2222.8,1320.2 2223,1322.2" fill="none" stroke="#555" stroke-width="0.8" />
<polyline points="2223.6,1339.8 2226,1339.6 2226.2,1341.4" fill="none" stroke="#555" stroke-width="0.8" />
<path d="M1274.9,1430.6 L1282.8,1446.9 L1277.5,1444.4 L1277.5,1458.4 L1272.3,1458.4 L1272.3,1444.4 L1267,1446.9 Z" fill="#000"/>
<path d="M1667.2,1430.8 L1675.1,1447 L1669.8,1444.5 L1669.8,1458.5 L1664.6,1458.5 L1664.6,1444.5 L1659.3,1447 Z" fill="#000"/>
<path d="M2204.4,1432.5 L2212.3,1448.8 L2207.1,1446.3 L2207.1,1459.9 L2201.7,1459.9 L2201.7,1446.3 L2196.5,1448.8 Z" fill="#000"/>
<path d="M1332.2,1451.1 H1428.5 L1429.5,1460.2 H1330.6 Q1330.4,1455 1332.2,1451.1 Z" fill="#fff" stroke="#555" stroke-width="0.9" />
<line x1="1333.4" y1="1451.3" x2="1333.2" y2="1460" stroke="#666" stroke-width="0.7" />
<path d="M1339.4,1455.4 v3.2 h2.4 v-3.2 M1339.4,1457.3 h2.4" fill="none" stroke="#111" stroke-width="0.8" /><rect x="1342.6" y="1454" width="2" height="1.7" fill="#888" stroke="#111" stroke-width="0.6" />
<path d="M1422.6,1455.8 v3.2 h-2.4 v-3.2 M1422.6,1457.7 h-2.4" fill="none" stroke="#111" stroke-width="0.8" /><rect x="1417.4" y="1454.4" width="2" height="1.7" fill="#888" stroke="#111" stroke-width="0.6" />
<path d="M1313.3,1460.2 H1450.5 L1452.3,1472.4 L1450.5,1478.3 H1312.7 Q1310.3,1468.5 1313.3,1460.2 Z" fill="#fff" stroke="#222" stroke-width="1.2" />
<line x1="1313.3" y1="1460.2" x2="1450.5" y2="1460.2" stroke="#222" stroke-width="1.8" />
<line x1="1314.5" y1="1464.8" x2="1451" y2="1464.8" stroke="#222" stroke-width="1.8" />
<path d="M1314.6,1460.5 Q1312.6,1468 1314.6,1472.4" fill="none" stroke="#222" stroke-width="0.9" />
<rect x="1314.2" y="1472.4" width="137.6" height="5.9" fill="#bbb" stroke="#222" stroke-width="0.8" />
<path d="M1316,1477.6 l3.2,-4.6 h5.6 l-2.6,4.6 M1326.6,1477.6 l3.2,-4.6 h5.6 l-2.6,4.6 M1337.2,1477.6 l3.2,-4.6 h5.6 l-2.6,4.6 M1347.8,1477.6 l3.2,-4.6 h5.6 l-2.6,4.6 M1358.4,1477.6 l3.2,-4.6 h5.6 l-2.6,4.6 M1369,1477.6 l3.2,-4.6 h5.6 l-2.6,4.6 M1379.6,1477.6 l3.2,-4.6 h5.6 l-2.6,4.6 M1390.2,1477.6 l3.2,-4.6 h5.6 l-2.6,4.6 M1400.8,1477.6 l3.2,-4.6 h5.6 l-2.6,4.6 M1411.4,1477.6 l3.2,-4.6 h5.6 l-2.6,4.6 M1422,1477.6 l3.2,-4.6 h5.6 l-2.6,4.6 M1432.6,1477.6 l3.2,-4.6 h5.6 l-2.6,4.6 M1443.2,1477.6 l3.2,-4.6 h5.6 l-2.6,4.6" fill="#eee" stroke="#222" stroke-width="0.9" />
<rect x="1711.6" y="1424.1" width="62" height="1.6" fill="#bdbdbd" stroke="none" stroke-width="0" />
<polygon points="1703.6,1408.2 1783.6,1408.2 1785.5,1421.6 1705.5,1421.6" fill="#fff" stroke="#333" stroke-width="1" />
<polygon points="1703.6,1408.2 1697.7,1411.2 1699.9,1425 1705.5,1421.6" fill="#fff" stroke="#333" stroke-width="1" />
<path d="M1711.6,1413.6 l0.9,5.7 l3.5,0.4 l-0.9,-6.1" fill="none" stroke="#111" stroke-width="1.1" />
<rect x="1713" y="1417.4" width="2.2" height="1.4" fill="#111" stroke="none" stroke-width="0" />
<path d="M1717.9,1415.4 h3.2 q1.4,2 -0.4,4.2 h-2.8 z" fill="#777" stroke="#111" stroke-width="0.8" />
<path d="M1773.8,1414.1 l0.9,5.6 l3.9,0 l-1.1,-5.6" fill="none" stroke="#111" stroke-width="1.1" />
<rect x="1775.2" y="1417.5" width="2.4" height="1.4" fill="#111" stroke="none" stroke-width="0" />
<path d="M1767.9,1410.7 h3.2 l0.9,4.2 h-3.4 z" fill="#777" stroke="#111" stroke-width="0.8" />
<polygon points="1699.9,1425 1706,1421.6 1716,1421.6 1709.9,1425.7" fill="#111" stroke="#000" stroke-width="0.4" />
<ellipse cx="1709.2" cy="1423.9" rx="2.1" ry="0.7" fill="#fff" stroke="none" stroke-width="0" />
<polygon points="1769,1425 1773.8,1421.8 1785.5,1421.6 1777.3,1425.9" fill="#111" stroke="#000" stroke-width="0.4" />
<ellipse cx="1777.8" cy="1423.8" rx="2.1" ry="0.7" fill="#fff" stroke="none" stroke-width="0" />
<polyline points="1737,1422.6 1743.9,1463.9 1747.2,1466.4 1752.4,1465.4 1747.8,1422.6" fill="#fff" stroke="#333" stroke-width="1" />
<line x1="1741.3" y1="1422.6" x2="1747.2" y2="1466.4" stroke="#333" stroke-width="0.9" />
<path d="M1752.4,1467 L1783.2,1507 M1715.4,1473.1 L1754.7,1528.6 M1715.4,1473.1 C1711.5,1466 1716,1459.5 1722,1457 C1727,1454.8 1732,1453.2 1737.4,1453.4 L1742.3,1454.8" fill="none" stroke="#333" stroke-width="1" />
<ellipse cx="1769.6" cy="1519.2" rx="18" ry="10.8" transform="rotate(-37 1769.6 1519.2)" fill="#fff" stroke="#222" stroke-width="1.7"/>
<path d="M1756.8,1524 C1757.6,1514.9 1769.6,1506.9 1777.2,1509.8 C1779.1,1515.9 1768.6,1525.9 1756.8,1524" fill="none" stroke="#333" stroke-width="0.8" />
<path d="M1743.2,1568.2 C1732,1568.6 1725,1571.6 1725,1574.8 A21.2,6.9 0 0 0 1767.4,1574.8 C1767.4,1571.6 1760,1568.6 1750.6,1568.2" fill="none" stroke="#000" stroke-width="1.9" />
<polygon points="1739.6,1565.2 1744.6,1567.6 1740.6,1571" fill="#000" stroke="#000" stroke-width="0.3" />
<polygon points="1754.4,1565.2 1749.2,1567.8 1753.6,1571" fill="#000" stroke="#000" stroke-width="0.3" />
<ellipse cx="1731.1" cy="1602.5" rx="2.7" ry="2.7" fill="#000" stroke="none" stroke-width="0" /><ellipse cx="1743.4" cy="1602.5" rx="2.7" ry="2.7" fill="#000" stroke="none" stroke-width="0" /><ellipse cx="1755.5" cy="1602.5" rx="2.7" ry="2.7" fill="#000" stroke="none" stroke-width="0" /><ellipse cx="1767.5" cy="1602.5" rx="2.7" ry="2.7" fill="#000" stroke="none" stroke-width="0" /><ellipse cx="1776.6" cy="1602.5" rx="2.7" ry="2.7" fill="#000" stroke="none" stroke-width="0" /><ellipse cx="1785.5" cy="1602.5" rx="2.7" ry="2.7" fill="#000" stroke="none" stroke-width="0" /><ellipse cx="1793.6" cy="1602.5" rx="2.7" ry="2.7" fill="#000" stroke="none" stroke-width="0" /><ellipse cx="1802.7" cy="1602.5" rx="2.7" ry="2.7" fill="#000" stroke="none" stroke-width="0" />
<line x1="1781.6" y1="1429.7" x2="1861.5" y2="1494.8" stroke="#555" stroke-width="0.8" stroke-dasharray="10.5 9.5"/>
<line x1="2071.5" y1="1422.6" x2="1987.2" y2="1496.3" stroke="#555" stroke-width="0.8" stroke-dasharray="10.5 9.5"/>
<text x="1924.1" y="1389.1" font-size="11.7" font-weight="bold" font-style="normal" text-anchor="middle" fill="#000" textLength="230" lengthAdjust="spacingAndGlyphs" stroke="#000" stroke-width="0.25">Специальные замки в виде “барашков”</text>
<text x="1924.2" y="1404" font-size="11.7" font-weight="bold" font-style="normal" text-anchor="middle" fill="#000" textLength="135.8" lengthAdjust="spacingAndGlyphs" stroke="#000" stroke-width="0.25">с двух сторон адаптера</text>
<text x="1924.1" y="1418.9" font-size="11.7" font-weight="bold" font-style="normal" text-anchor="middle" fill="#000" textLength="202" lengthAdjust="spacingAndGlyphs" stroke="#000" stroke-width="0.25">(<tspan font-weight="900" stroke="#000" stroke-width="0.5">LOCK</tspan> -закрыто; <tspan stroke="#000" stroke-width="0.5">OPEN</tspan> –открыто),</text>
<text x="1924.1" y="1433.8" font-size="11.7" font-weight="bold" font-style="normal" text-anchor="middle" fill="#000" textLength="142.3" lengthAdjust="spacingAndGlyphs" stroke="#000" stroke-width="0.25">обеспечивают надежное</text>
<text x="1924" y="1449.2" font-size="11.7" font-weight="bold" font-style="normal" text-anchor="middle" fill="#000" textLength="183.2" lengthAdjust="spacingAndGlyphs" stroke="#000" stroke-width="0.25">крепление светильника к треку.</text>
<path d="M1885.2,1486 C1892,1470 1907,1462.8 1923.6,1462.8 C1940,1462.8 1955,1470 1962.2,1486" fill="none" stroke="#000" stroke-width="2.2" />
<polygon points="1882.2,1482.4 1889.2,1484 1883.8,1490.6" fill="#000" stroke="#000" stroke-width="0.3" />
<polygon points="1965.4,1482.4 1958.2,1484 1963.6,1490.6" fill="#000" stroke="#000" stroke-width="0.3" />
<circle cx="1880.8" cy="1532.3" r="37.8" fill="none" stroke="#555" stroke-width="0.8" stroke-dasharray="10.8 9.0" stroke-dashoffset="4"/>
<circle cx="1964" cy="1532.3" r="37.8" fill="none" stroke="#555" stroke-width="0.8" stroke-dasharray="10.8 9.0" stroke-dashoffset="4"/>
<polyline points="1888.6,1503.9 1890.1,1501.2 1899,1501.2 1900.5,1503.5" fill="none" stroke="#555" stroke-width="0.9" />
<polyline points="1905.9,1503.2 1855.1,1507.2 1855.1,1552 1915.2,1548.1" fill="none" stroke="#555" stroke-width="0.9" />
<polygon points="1861,1509.6 1900.8,1506.7 1900.8,1546.6 1861,1549.5" fill="none" stroke="#555" stroke-width="0.9" />
<ellipse cx="1880.8" cy="1528.3" rx="17.2" ry="17.2" fill="none" stroke="#444" stroke-width="0.9" />
<polyline points="1855.1,1552 1867.9,1565.3 1901.9,1563.3 1907.4,1558.4 1901,1551" fill="none" stroke="#555" stroke-width="0.9" />
<polyline points="1883.7,1551 1889.6,1559.4 1899,1558.4 1898,1550.5" fill="none" stroke="#555" stroke-width="0.9" />
<polyline points="1899,1558.4 1901.9,1555.4 1906,1557.6" fill="none" stroke="#555" stroke-width="0.9" />
<polyline points="1885.5,1551 1889.2,1554.6" fill="none" stroke="#555" stroke-width="0.8" />
<path d="M1864.5,1523.4 Q1880.8,1519.5 1897.2,1520.6 Q1898.6,1528 1897,1533.4 Q1880.8,1537 1864.8,1536 Q1863.2,1528.5 1864.5,1523.4 Z" fill="#fff" stroke="#444" stroke-width="0.8" />
<polygon points="1865.4,1522.5 1869,1522.2 1868.8,1534.8 1865.2,1535.3" fill="#000" stroke="#000" stroke-width="0.3" />
<polygon points="1873.2,1522 1876.8,1521.7 1876.6,1534.4 1873,1534.9" fill="#000" stroke="#000" stroke-width="0.3" />
<polygon points="1881,1521.5 1884.6,1521.2 1884.4,1534 1880.8,1534.5" fill="#000" stroke="#000" stroke-width="0.3" />
<polygon points="1888.6,1521 1892.2,1520.7 1892,1533.6 1888.4,1534.1" fill="#000" stroke="#000" stroke-width="0.3" />
<polyline points="1971.9,1503.9 1973.4,1501.2 1982.3,1501.2 1983.8,1503.5" fill="none" stroke="#555" stroke-width="0.9" />
<polyline points="1989.2,1503.2 1938.4,1507.2 1938.4,1552 1998.5,1548.1" fill="none" stroke="#555" stroke-width="0.9" />
<polygon points="1944.3,1509.6 1984.1,1506.7 1984.1,1546.6 1944.3,1549.5" fill="none" stroke="#555" stroke-width="0.9" />
<ellipse cx="1964.1" cy="1528.3" rx="17.2" ry="17.2" fill="none" stroke="#444" stroke-width="0.9" />
<polyline points="1938.4,1552 1951.2,1565.3 1985.2,1563.3 1990.7,1558.4 1984.3,1551" fill="none" stroke="#555" stroke-width="0.9" />
<polyline points="1967,1551 1972.9,1559.4 1982.3,1558.4 1981.3,1550.5" fill="none" stroke="#555" stroke-width="0.9" />
<polyline points="1982.3,1558.4 1985.2,1555.4 1989.3,1557.6" fill="none" stroke="#555" stroke-width="0.9" />
<polyline points="1968.8,1551 1972.5,1554.6" fill="none" stroke="#555" stroke-width="0.8" />
<path d="M1948.9,1521.6 Q1964.1,1518.6 1979.5,1519.6 Q1981.1,1526 1979.3,1532 Q1964.1,1535.5 1949.3,1534.6 Q1947.5,1528 1948.9,1521.6 Z" fill="#fff" stroke="#444" stroke-width="0.9" />
<text transform="translate(1951.5,1533.2) rotate(-5) scale(0.68,1)" font-size="13.6" font-weight="bold" stroke="#000" stroke-width="0.5">LOCK</text>
<text x="1849" y="1593.9" font-size="12.4" font-weight="bold" font-style="normal" text-anchor="start" fill="#000" textLength="63.3" lengthAdjust="spacingAndGlyphs" stroke="#000" stroke-width="0.25">ОТКРЫТО</text>
<text x="1936" y="1593.9" font-size="12.4" font-weight="bold" font-style="normal" text-anchor="start" fill="#000" textLength="62" lengthAdjust="spacingAndGlyphs" stroke="#000" stroke-width="0.25">ЗАКРЫТО</text>
<rect x="2082" y="1412.8" width="61.7" height="1.6" fill="#bdbdbd" stroke="none" stroke-width="0" />
<polygon points="2074,1397.2 2153.7,1397.2 2155.6,1410.3 2075.9,1410.3" fill="#fff" stroke="#333" stroke-width="1" />
<polygon points="2074,1397.2 2068.1,1400.2 2070.3,1413.7 2075.9,1410.3" fill="#fff" stroke="#333" stroke-width="1" />
<path d="M2082,1402.6 l0.9,5.7 l3.5,0.4 l-0.9,-6.1" fill="none" stroke="#111" stroke-width="1.1" />
<rect x="2083.4" y="1406.4" width="2.2" height="1.4" fill="#111" stroke="none" stroke-width="0" />
<path d="M2088.3,1404.4 h3.2 q1.4,2 -0.4,4.2 h-2.8 z" fill="#777" stroke="#111" stroke-width="0.8" />
<path d="M2143.9,1403.1 l0.9,5.6 l3.9,0 l-1.1,-5.6" fill="none" stroke="#111" stroke-width="1.1" />
<rect x="2145.3" y="1406.5" width="2.4" height="1.4" fill="#111" stroke="none" stroke-width="0" />
<path d="M2138,1399.7 h3.2 l0.9,4.2 h-3.4 z" fill="#777" stroke="#111" stroke-width="0.8" />
<polygon points="2070.3,1413.7 2076.4,1410.3 2086.4,1410.3 2080.3,1414.4" fill="#111" stroke="#000" stroke-width="0.4" />
<ellipse cx="2079.6" cy="1412.6" rx="2.1" ry="0.7" fill="#fff" stroke="none" stroke-width="0" />
<polygon points="2139.1,1413.7 2143.9,1410.5 2155.6,1410.3 2147.4,1414.6" fill="#111" stroke="#000" stroke-width="0.4" />
<ellipse cx="2147.9" cy="1412.5" rx="2.1" ry="0.7" fill="#fff" stroke="none" stroke-width="0" />
<path d="M2108.2,1413.5 Q2108.2,1411.4 2110.5,1411.4 H2117.6 Q2119.9,1411.4 2119.9,1413.5 V1425.8 Q2119.9,1427.8 2117.6,1427.8 H2110.5 Q2108.2,1427.8 2108.2,1425.8 Z" fill="#fff" stroke="#555" stroke-width="0.9" />
<line x1="2108.2" y1="1415.4" x2="2119.9" y2="1415.4" stroke="#666" stroke-width="0.7" />
<rect x="2112" y="1427.8" width="4.9" height="73.4" fill="#fff" stroke="#555" stroke-width="0.9" />
<path d="M2096.3,1509.6 A17.65,8.8 0 0 1 2131.6,1509.6 V1585.2 H2096.3 Z" fill="#fff" stroke="#666" stroke-width="0.9" />
<ellipse cx="2114" cy="1585.2" rx="17.3" ry="8.2" fill="#fff" stroke="#222" stroke-width="1.8" />
<path d="M2105.5,1578.4 Q2114.2,1584 2124,1578.4" fill="none" stroke="#555" stroke-width="0.8" />
</g>
</svg></body></html>
